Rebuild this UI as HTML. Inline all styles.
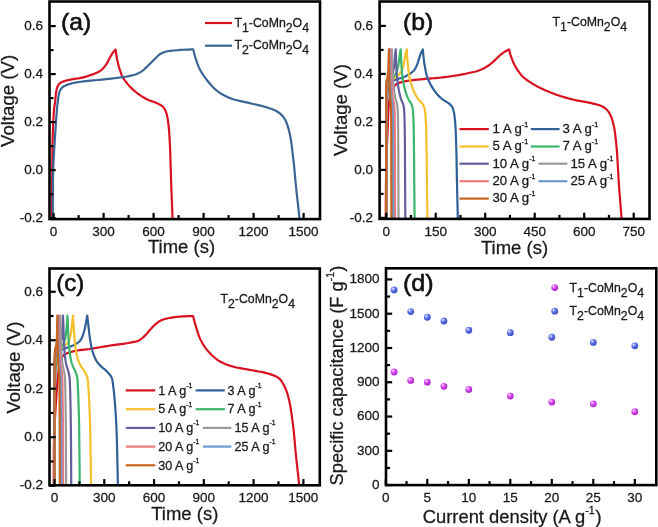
<!DOCTYPE html><html><head><meta charset="utf-8"><style>html,body{margin:0;padding:0;background:#fff;width:658px;height:527px;overflow:hidden}</style></head><body><svg width="658" height="527" viewBox="0 0 658 527" style="display:block;will-change:transform">
<defs>
<radialGradient id="gm" cx="0.35" cy="0.32" r="0.7"><stop offset="0" stop-color="#fde0ff"/><stop offset="0.4" stop-color="#d850f2"/><stop offset="1" stop-color="#a81ec8"/></radialGradient>
<radialGradient id="gb" cx="0.35" cy="0.32" r="0.7"><stop offset="0" stop-color="#eef2ff"/><stop offset="0.4" stop-color="#6a7cec"/><stop offset="1" stop-color="#3646c0"/></radialGradient>
<clipPath id="ca"><rect x="49.5" y="1.5" width="270.5" height="217.6"/></clipPath>
<clipPath id="cb"><rect x="379.6" y="1.5" width="269.9" height="217.4"/></clipPath>
<clipPath id="cc"><rect x="49.5" y="268.5" width="270.3" height="216.8"/></clipPath>
</defs>
<style>text{stroke:#1a1a1a;stroke-width:0.28px}text.pl{stroke:#111;stroke-width:0.6px}</style>
<g font-family="'Liberation Sans', sans-serif" fill="#1a1a1a">
<g clip-path="url(#ca)" fill="none" stroke-width="2.2" stroke-linejoin="round">
<path d="M51.99,225.3 L52.01,218.32 L52.03,211.22 L52.04,204.08 L52.06,196.97 L52.08,189.94 L52.11,183.07 L52.14,176.44 L52.2,170.1 L52.25,165.18 L52.3,160.39 L52.35,155.72 L52.41,151.17 L52.48,146.73 L52.57,142.41 L52.67,138.2 L52.79,134.1 L52.91,130.78 L53.03,127.48 L53.16,124.21 L53.3,121.04 L53.46,118 L53.62,115.14 L53.81,112.49 L54,110.1 L54.13,108.82 L54.27,107.66 L54.41,106.6 L54.55,105.59 L54.7,104.61 L54.85,103.61 L55,102.57 L55.15,101.46 L55.31,100.04 L55.46,98.52 L55.6,96.95 L55.75,95.36 L55.91,93.79 L56.1,92.3 L56.32,90.92 L56.58,89.7 L56.76,88.97 L56.95,88.29 L57.15,87.64 L57.36,87.03 L57.59,86.46 L57.84,85.91 L58.12,85.39 L58.44,84.9 L58.73,84.49 L59.03,84.12 L59.35,83.77 L59.68,83.45 L60.05,83.14 L60.46,82.84 L60.91,82.55 L61.41,82.26 L62.42,81.79 L63.62,81.35 L64.98,80.93 L66.42,80.55 L67.92,80.19 L69.41,79.86 L70.86,79.55 L72.2,79.26 L73.31,79.04 L74.39,78.87 L75.45,78.73 L76.5,78.6 L77.54,78.47 L78.6,78.33 L79.67,78.16 L80.76,77.94 L82.01,77.65 L83.31,77.32 L84.65,76.96 L85.99,76.58 L87.3,76.19 L88.55,75.8 L89.73,75.42 L90.8,75.06 L91.46,74.83 L92.08,74.6 L92.66,74.38 L93.22,74.16 L93.76,73.94 L94.29,73.72 L94.83,73.48 L95.39,73.24 L95.97,72.98 L96.56,72.73 L97.15,72.47 L97.74,72.2 L98.32,71.92 L98.89,71.63 L99.44,71.32 L99.98,70.98 L100.48,70.63 L100.96,70.26 L101.43,69.88 L101.89,69.48 L102.34,69.07 L102.78,68.64 L103.21,68.2 L103.63,67.74 L104.07,67.24 L104.49,66.72 L104.91,66.19 L105.31,65.64 L105.7,65.08 L106.09,64.5 L106.47,63.9 L106.86,63.3 L107.28,62.6 L107.69,61.86 L108.1,61.09 L108.5,60.31 L108.9,59.53 L109.3,58.76 L109.69,58.02 L110.08,57.3 L110.43,56.69 L110.76,56.09 L111.09,55.49 L111.43,54.91 L111.76,54.34 L112.1,53.79 L112.45,53.25 L112.81,52.74 L113.14,52.31 L113.48,51.9 L113.83,51.51 L114.18,51.13 L114.54,50.75 L114.89,50.38 L115.25,50 L115.6,49.62 L115.7,50.36 L115.8,51.09 L115.9,51.82 L116,52.54 L116.1,53.28 L116.21,54.03 L116.33,54.81 L116.47,55.62 L116.65,56.67 L116.85,57.78 L117.06,58.93 L117.29,60.09 L117.53,61.27 L117.78,62.45 L118.05,63.61 L118.33,64.74 L118.62,65.83 L118.93,66.94 L119.26,68.04 L119.6,69.14 L119.95,70.21 L120.3,71.24 L120.65,72.22 L120.99,73.14 L121.24,73.78 L121.46,74.36 L121.68,74.92 L121.9,75.46 L122.13,75.99 L122.4,76.53 L122.69,77.1 L123.04,77.7 L123.62,78.63 L124.28,79.63 L125,80.66 L125.79,81.71 L126.62,82.78 L127.47,83.84 L128.35,84.87 L129.24,85.86 L130.2,86.88 L131.2,87.89 L132.23,88.89 L133.3,89.87 L134.38,90.84 L135.49,91.77 L136.61,92.67 L137.73,93.54 L138.85,94.35 L139.98,95.14 L141.12,95.9 L142.28,96.62 L143.46,97.33 L144.66,98.01 L145.87,98.67 L147.1,99.3 L148.41,99.92 L149.79,100.49 L151.21,101.03 L152.64,101.54 L154.04,102.05 L155.4,102.56 L156.67,103.08 L157.82,103.62 L158.61,104.02 L159.36,104.4 L160.09,104.77 L160.77,105.15 L161.42,105.55 L162.04,105.98 L162.62,106.45 L163.15,106.98 L163.65,107.55 L164.09,108.15 L164.49,108.79 L164.86,109.46 L165.2,110.17 L165.52,110.91 L165.83,111.69 L166.13,112.5 L166.5,113.64 L166.84,114.84 L167.13,116.1 L167.4,117.43 L167.64,118.82 L167.87,120.26 L168.08,121.75 L168.3,123.3 L168.57,125.49 L168.81,127.77 L169.02,130.16 L169.21,132.65 L169.38,135.25 L169.53,137.95 L169.69,140.77 L169.85,143.7 L170.07,148.16 L170.26,153.01 L170.43,158.15 L170.59,163.47 L170.74,168.87 L170.89,174.25 L171.05,179.49 L171.21,184.5 L171.38,189.02 L171.56,193.71 L171.75,198.42 L171.94,203.05 L172.12,207.45 L172.28,211.51 L172.41,215.1 L172.52,218.1 L172.55,219.25 L172.58,220.27 L172.61,221.19 L172.63,222.03 L172.64,222.83 L172.66,223.62 L172.68,224.44 L172.7,225.3" stroke="#d81020"/>
<path d="M52.8,225.3 L52.83,218.32 L52.85,211.22 L52.85,204.08 L52.86,196.96 L52.88,189.94 L52.94,183.07 L53.04,176.44 L53.2,170.1 L53.38,165.16 L53.6,160.32 L53.85,155.59 L54.12,150.98 L54.4,146.52 L54.68,142.2 L54.95,138.06 L55.2,134.1 L55.38,131.24 L55.55,128.49 L55.72,125.83 L55.89,123.26 L56.06,120.77 L56.23,118.35 L56.41,116 L56.6,113.7 L56.75,111.9 L56.9,110.14 L57.05,108.44 L57.2,106.77 L57.36,105.15 L57.53,103.57 L57.72,102.02 L57.93,100.5 L58.11,99.22 L58.28,97.94 L58.46,96.68 L58.64,95.44 L58.86,94.26 L59.11,93.13 L59.41,92.09 L59.77,91.14 L60.05,90.51 L60.35,89.93 L60.66,89.39 L60.99,88.88 L61.36,88.41 L61.77,87.95 L62.24,87.5 L62.77,87.06 L63.64,86.46 L64.63,85.9 L65.72,85.38 L66.91,84.89 L68.18,84.44 L69.5,84.01 L70.87,83.6 L72.27,83.22 L74.25,82.76 L76.4,82.36 L78.68,82.02 L81.04,81.73 L83.45,81.46 L85.87,81.21 L88.27,80.96 L90.6,80.7 L92.86,80.45 L95.11,80.22 L97.36,80.01 L99.6,79.81 L101.86,79.61 L104.13,79.4 L106.43,79.16 L108.77,78.9 L111.42,78.58 L114.22,78.24 L117.1,77.88 L119.98,77.51 L122.78,77.12 L125.42,76.72 L127.83,76.31 L129.93,75.9 L131.01,75.66 L131.99,75.43 L132.9,75.2 L133.76,74.97 L134.57,74.72 L135.36,74.46 L136.15,74.17 L136.93,73.86 L137.64,73.56 L138.33,73.25 L138.99,72.93 L139.64,72.59 L140.28,72.23 L140.92,71.84 L141.55,71.43 L142.2,70.98 L142.96,70.4 L143.71,69.77 L144.46,69.1 L145.21,68.39 L145.96,67.66 L146.71,66.92 L147.45,66.18 L148.2,65.46 L148.96,64.72 L149.72,63.98 L150.47,63.22 L151.23,62.46 L151.98,61.7 L152.74,60.94 L153.5,60.19 L154.27,59.46 L155.02,58.73 L155.78,57.98 L156.54,57.23 L157.3,56.49 L158.06,55.77 L158.84,55.1 L159.63,54.48 L160.43,53.94 L161.14,53.52 L161.84,53.15 L162.54,52.82 L163.25,52.52 L163.99,52.25 L164.75,52.01 L165.57,51.77 L166.43,51.54 L167.73,51.25 L169.13,51.01 L170.61,50.81 L172.16,50.64 L173.75,50.49 L175.37,50.36 L176.99,50.23 L178.6,50.1 L180.36,49.97 L182.15,49.86 L183.97,49.76 L185.81,49.68 L187.66,49.61 L189.52,49.54 L191.37,49.46 L193.2,49.38 L193.49,50.48 L193.76,51.57 L194.03,52.66 L194.31,53.74 L194.59,54.84 L194.89,55.95 L195.23,57.09 L195.6,58.26 L196.08,59.71 L196.58,61.2 L197.1,62.74 L197.66,64.29 L198.27,65.86 L198.93,67.42 L199.65,68.97 L200.43,70.5 L201.41,72.2 L202.5,73.93 L203.66,75.66 L204.89,77.38 L206.16,79.07 L207.44,80.7 L208.7,82.25 L209.93,83.7 L210.92,84.84 L211.89,85.92 L212.86,86.96 L213.83,87.95 L214.82,88.91 L215.85,89.83 L216.94,90.74 L218.1,91.62 L219.47,92.58 L220.9,93.52 L222.39,94.42 L223.93,95.28 L225.53,96.11 L227.17,96.89 L228.87,97.64 L230.6,98.34 L232.68,99.07 L234.85,99.72 L237.11,100.3 L239.42,100.83 L241.77,101.34 L244.12,101.84 L246.46,102.35 L248.77,102.9 L251.09,103.46 L253.46,104.01 L255.86,104.55 L258.25,105.1 L260.6,105.65 L262.88,106.22 L265.05,106.82 L267.1,107.46 L268.63,107.97 L270.12,108.47 L271.56,108.98 L272.95,109.5 L274.28,110.06 L275.56,110.65 L276.78,111.3 L277.93,112.02 L278.9,112.69 L279.82,113.39 L280.68,114.12 L281.51,114.88 L282.29,115.69 L283.04,116.56 L283.75,117.5 L284.43,118.5 L285.22,119.84 L285.93,121.28 L286.58,122.8 L287.17,124.42 L287.73,126.12 L288.26,127.9 L288.77,129.77 L289.27,131.7 L289.93,134.58 L290.52,137.7 L291.05,141 L291.54,144.45 L292,147.98 L292.43,151.55 L292.85,155.1 L293.27,158.58 L293.68,162.15 L294.06,165.74 L294.41,169.35 L294.74,172.98 L295.07,176.63 L295.39,180.28 L295.74,183.95 L296.1,187.62 L296.52,191.54 L296.98,195.68 L297.45,199.92 L297.93,204.13 L298.39,208.18 L298.81,211.94 L299.16,215.29 L299.43,218.1 L299.53,219.24 L299.61,220.25 L299.67,221.16 L299.73,222.01 L299.78,222.82 L299.83,223.62 L299.88,224.43 L299.93,225.3" stroke="#3b6594"/>
</g>
<rect x="49.5" y="1.5" width="270.5" height="217.6" fill="none" stroke="#000" stroke-width="2.6"/>
<line x1="53.6" y1="219.1" x2="53.6" y2="212.9" stroke="#000" stroke-width="2.2"/>
<line x1="103.6" y1="219.1" x2="103.6" y2="212.9" stroke="#000" stroke-width="2.2"/>
<line x1="153.6" y1="219.1" x2="153.6" y2="212.9" stroke="#000" stroke-width="2.2"/>
<line x1="203.6" y1="219.1" x2="203.6" y2="212.9" stroke="#000" stroke-width="2.2"/>
<line x1="253.6" y1="219.1" x2="253.6" y2="212.9" stroke="#000" stroke-width="2.2"/>
<line x1="303.6" y1="219.1" x2="303.6" y2="212.9" stroke="#000" stroke-width="2.2"/>
<line x1="78.6" y1="219.1" x2="78.6" y2="215.1" stroke="#000" stroke-width="2.2"/>
<line x1="128.6" y1="219.1" x2="128.6" y2="215.1" stroke="#000" stroke-width="2.2"/>
<line x1="178.6" y1="219.1" x2="178.6" y2="215.1" stroke="#000" stroke-width="2.2"/>
<line x1="228.6" y1="219.1" x2="228.6" y2="215.1" stroke="#000" stroke-width="2.2"/>
<line x1="278.6" y1="219.1" x2="278.6" y2="215.1" stroke="#000" stroke-width="2.2"/>
<line x1="49.5" y1="218.1" x2="55.7" y2="218.1" stroke="#000" stroke-width="2.2"/>
<line x1="49.5" y1="170.1" x2="55.7" y2="170.1" stroke="#000" stroke-width="2.2"/>
<line x1="49.5" y1="122.1" x2="55.7" y2="122.1" stroke="#000" stroke-width="2.2"/>
<line x1="49.5" y1="74.1" x2="55.7" y2="74.1" stroke="#000" stroke-width="2.2"/>
<line x1="49.5" y1="26.1" x2="55.7" y2="26.1" stroke="#000" stroke-width="2.2"/>
<line x1="49.5" y1="194.1" x2="53.5" y2="194.1" stroke="#000" stroke-width="2.2"/>
<line x1="49.5" y1="146.1" x2="53.5" y2="146.1" stroke="#000" stroke-width="2.2"/>
<line x1="49.5" y1="98.1" x2="53.5" y2="98.1" stroke="#000" stroke-width="2.2"/>
<line x1="49.5" y1="50.1" x2="53.5" y2="50.1" stroke="#000" stroke-width="2.2"/>
<text x="53.6" y="235.7" text-anchor="middle" font-size="13.5">0</text>
<text x="103.6" y="235.7" text-anchor="middle" font-size="13.5">300</text>
<text x="153.6" y="235.7" text-anchor="middle" font-size="13.5">600</text>
<text x="203.6" y="235.7" text-anchor="middle" font-size="13.5">900</text>
<text x="253.6" y="235.7" text-anchor="middle" font-size="13.5">1200</text>
<text x="303.6" y="235.7" text-anchor="middle" font-size="13.5">1500</text>
<text x="43" y="221.9" text-anchor="end" font-size="13.5">-0.2</text>
<text x="43" y="173.9" text-anchor="end" font-size="13.5">0.0</text>
<text x="43" y="125.9" text-anchor="end" font-size="13.5">0.2</text>
<text x="43" y="77.9" text-anchor="end" font-size="13.5">0.4</text>
<text x="43" y="29.9" text-anchor="end" font-size="13.5">0.6</text>
<text x="181.5" y="253.3" text-anchor="middle" font-size="18.5">Time (s)</text>
<text transform="translate(14,100.9) rotate(-90)" text-anchor="middle" font-size="18.6">Voltage (V)</text>
<text transform="translate(61,30) scale(1.03,1)" font-size="24" class="pl" fill="#111">(a)</text>
<line x1="205" y1="23" x2="232" y2="23" stroke="#d81020" stroke-width="2.2"/>
<line x1="205" y1="45.7" x2="232" y2="45.7" stroke="#3b6594" stroke-width="2.2"/>
<text x="234.5" y="26.6" font-size="12.3">T<tspan font-size="12.3" dy="5">1</tspan><tspan dy="-5">-CoMn</tspan><tspan font-size="12.3" dy="5">2</tspan><tspan dy="-5">O</tspan><tspan font-size="12.3" dy="5">4</tspan></text>
<text x="234.5" y="49.3" font-size="12.3">T<tspan font-size="12.3" dy="5">2</tspan><tspan dy="-5">-CoMn</tspan><tspan font-size="12.3" dy="5">2</tspan><tspan dy="-5">O</tspan><tspan font-size="12.3" dy="5">4</tspan></text>
<g clip-path="url(#cb)" fill="none" stroke-width="2.2" stroke-linejoin="round">
<path d="M385.71,225.1 L385.76,218.14 L385.8,211.09 L385.83,204.01 L385.87,196.95 L385.92,189.95 L385.98,183.08 L386.07,176.38 L386.2,169.9 L386.33,164.54 L386.49,159.27 L386.66,154.1 L386.85,149.03 L387.04,144.07 L387.25,139.21 L387.46,134.46 L387.67,129.82 L387.83,125.93 L387.97,122.04 L388.1,118.2 L388.24,114.44 L388.41,110.83 L388.63,107.39 L388.91,104.19 L389.27,101.26 L389.54,99.49 L389.81,97.81 L390.1,96.2 L390.42,94.68 L390.77,93.25 L391.16,91.9 L391.6,90.65 L392.09,89.5 L392.47,88.75 L392.87,88.04 L393.28,87.39 L393.72,86.78 L394.19,86.21 L394.68,85.68 L395.21,85.17 L395.78,84.7 L396.38,84.25 L397,83.86 L397.65,83.51 L398.33,83.19 L399.06,82.89 L399.86,82.62 L400.72,82.34 L401.67,82.06 L403.7,81.56 L406.1,81.11 L408.78,80.69 L411.64,80.31 L414.59,79.96 L417.54,79.64 L420.38,79.34 L423.03,79.06 L425.23,78.84 L427.37,78.67 L429.46,78.53 L431.54,78.4 L433.6,78.27 L435.69,78.13 L437.8,77.96 L439.97,77.74 L442.43,77.45 L445.02,77.12 L447.66,76.76 L450.3,76.38 L452.9,75.99 L455.39,75.6 L457.73,75.22 L459.86,74.86 L461.16,74.63 L462.38,74.41 L463.53,74.19 L464.62,73.97 L465.69,73.75 L466.76,73.52 L467.83,73.28 L468.94,73.04 L470.09,72.78 L471.24,72.53 L472.41,72.28 L473.56,72.02 L474.71,71.74 L475.84,71.45 L476.95,71.13 L478.02,70.78 L478.99,70.44 L479.93,70.08 L480.85,69.7 L481.76,69.31 L482.66,68.9 L483.54,68.46 L484.41,68.01 L485.27,67.54 L486.11,67.05 L486.93,66.54 L487.73,66.02 L488.53,65.47 L489.32,64.91 L490.1,64.32 L490.88,63.72 L491.65,63.1 L492.47,62.41 L493.28,61.67 L494.09,60.9 L494.89,60.12 L495.69,59.34 L496.48,58.56 L497.26,57.81 L498.03,57.1 L498.72,56.48 L499.4,55.87 L500.06,55.28 L500.73,54.69 L501.39,54.12 L502.06,53.57 L502.74,53.04 L503.44,52.54 L504.11,52.09 L504.79,51.68 L505.48,51.28 L506.17,50.91 L506.87,50.54 L507.57,50.17 L508.27,49.8 L508.96,49.42 L509.17,50.16 L509.36,50.89 L509.56,51.62 L509.75,52.35 L509.95,53.09 L510.17,53.84 L510.41,54.62 L510.68,55.42 L511.04,56.48 L511.44,57.59 L511.86,58.74 L512.31,59.92 L512.79,61.1 L513.28,62.27 L513.81,63.42 L514.35,64.54 L514.94,65.65 L515.56,66.76 L516.22,67.87 L516.9,68.97 L517.59,70.04 L518.28,71.06 L518.96,72.03 L519.62,72.94 L520.11,73.59 L520.57,74.19 L521.01,74.76 L521.46,75.3 L521.94,75.83 L522.45,76.36 L523.02,76.92 L523.67,77.5 L524.84,78.47 L526.16,79.48 L527.62,80.52 L529.18,81.58 L530.82,82.63 L532.51,83.68 L534.22,84.69 L535.93,85.66 L537.86,86.71 L539.87,87.74 L541.93,88.74 L544.04,89.72 L546.19,90.68 L548.36,91.6 L550.54,92.49 L552.72,93.34 L554.96,94.17 L557.22,94.97 L559.5,95.73 L561.8,96.45 L564.12,97.15 L566.47,97.82 L568.84,98.47 L571.23,99.1 L573.85,99.72 L576.59,100.3 L579.39,100.83 L582.2,101.35 L584.96,101.85 L587.63,102.35 L590.14,102.87 L592.44,103.42 L593.97,103.81 L595.44,104.17 L596.85,104.52 L598.2,104.88 L599.48,105.26 L600.71,105.7 L601.88,106.2 L602.98,106.78 L603.87,107.33 L604.7,107.91 L605.49,108.53 L606.23,109.19 L606.94,109.89 L607.61,110.64 L608.25,111.44 L608.86,112.3 L609.56,113.41 L610.19,114.59 L610.77,115.85 L611.3,117.17 L611.8,118.57 L612.27,120.02 L612.72,121.53 L613.15,123.1 L613.69,125.27 L614.16,127.55 L614.57,129.93 L614.94,132.43 L615.27,135.03 L615.59,137.74 L615.9,140.56 L616.22,143.5 L616.65,147.95 L617.02,152.8 L617.36,157.94 L617.68,163.27 L617.98,168.67 L618.28,174.05 L618.58,179.29 L618.92,184.3 L619.25,188.83 L619.61,193.51 L619.98,198.22 L620.35,202.85 L620.7,207.25 L621.01,211.31 L621.28,214.9 L621.49,217.9 L621.56,219.05 L621.62,220.07 L621.67,220.99 L621.71,221.83 L621.74,222.63 L621.78,223.42 L621.82,224.24 L621.86,225.1" stroke="#d81020"/>
<path d="M386.05,225.1 L386.07,218.14 L386.08,211.09 L386.09,204.01 L386.1,196.95 L386.12,189.95 L386.14,183.08 L386.16,176.38 L386.2,169.9 L386.24,164.54 L386.29,159.27 L386.34,154.1 L386.39,149.04 L386.45,144.07 L386.51,139.21 L386.58,134.46 L386.64,129.82 L386.69,125.93 L386.73,122.05 L386.77,118.21 L386.81,114.46 L386.86,110.84 L386.92,107.41 L387.01,104.2 L387.12,101.26 L387.19,99.51 L387.27,97.83 L387.36,96.24 L387.45,94.73 L387.55,93.3 L387.66,91.95 L387.8,90.68 L387.96,89.5 L388.07,88.78 L388.17,88.11 L388.29,87.47 L388.4,86.86 L388.54,86.28 L388.69,85.73 L388.86,85.2 L389.06,84.7 L389.23,84.31 L389.39,83.95 L389.57,83.61 L389.76,83.28 L389.97,82.97 L390.22,82.66 L390.49,82.36 L390.82,82.06 L391.4,81.62 L392.11,81.19 L392.9,80.78 L393.76,80.39 L394.64,80.02 L395.53,79.67 L396.39,79.35 L397.19,79.06 L397.84,78.85 L398.48,78.68 L399.1,78.53 L399.73,78.4 L400.35,78.27 L400.97,78.12 L401.6,77.95 L402.24,77.74 L402.99,77.45 L403.77,77.12 L404.56,76.75 L405.35,76.37 L406.12,75.98 L406.86,75.59 L407.55,75.21 L408.18,74.86 L408.58,74.63 L408.94,74.4 L409.29,74.18 L409.62,73.96 L409.93,73.74 L410.25,73.51 L410.56,73.28 L410.89,73.04 L411.24,72.78 L411.59,72.52 L411.94,72.25 L412.29,71.98 L412.63,71.7 L412.97,71.41 L413.29,71.1 L413.6,70.78 L413.91,70.42 L414.2,70.05 L414.48,69.66 L414.75,69.26 L415.01,68.85 L415.27,68.42 L415.52,67.98 L415.76,67.54 L416.03,67.03 L416.28,66.51 L416.52,65.97 L416.76,65.42 L416.99,64.86 L417.22,64.28 L417.44,63.7 L417.67,63.1 L417.92,62.39 L418.16,61.65 L418.4,60.89 L418.64,60.11 L418.87,59.33 L419.11,58.56 L419.34,57.82 L419.57,57.1 L419.77,56.49 L419.97,55.89 L420.16,55.3 L420.36,54.72 L420.55,54.15 L420.76,53.6 L420.96,53.06 L421.18,52.54 L421.38,52.12 L421.58,51.71 L421.78,51.32 L421.99,50.94 L422.2,50.56 L422.41,50.18 L422.62,49.81 L422.83,49.42 L422.89,50.16 L422.96,50.89 L423.01,51.62 L423.07,52.34 L423.14,53.08 L423.21,53.83 L423.28,54.61 L423.36,55.42 L423.48,56.47 L423.6,57.58 L423.73,58.72 L423.87,59.89 L424.01,61.07 L424.17,62.25 L424.33,63.41 L424.51,64.54 L424.69,65.63 L424.88,66.73 L425.08,67.83 L425.29,68.93 L425.5,70 L425.72,71.03 L425.93,72.02 L426.15,72.94 L426.29,73.57 L426.43,74.15 L426.56,74.71 L426.69,75.24 L426.84,75.77 L427,76.31 L427.18,76.89 L427.4,77.5 L427.75,78.42 L428.16,79.4 L428.6,80.43 L429.07,81.48 L429.58,82.55 L430.11,83.61 L430.66,84.65 L431.21,85.66 L431.79,86.66 L432.4,87.66 L433.03,88.65 L433.68,89.64 L434.35,90.6 L435.03,91.55 L435.73,92.46 L436.43,93.34 L437.11,94.14 L437.79,94.91 L438.49,95.66 L439.2,96.39 L439.92,97.1 L440.66,97.79 L441.42,98.46 L442.19,99.1 L442.99,99.7 L443.83,100.27 L444.71,100.82 L445.59,101.34 L446.46,101.86 L447.3,102.37 L448.08,102.89 L448.78,103.42 L449.27,103.83 L449.75,104.22 L450.19,104.61 L450.61,105 L451.01,105.41 L451.38,105.83 L451.73,106.29 L452.06,106.78 L452.38,107.37 L452.67,107.98 L452.91,108.62 L453.14,109.3 L453.34,110 L453.52,110.74 L453.7,111.5 L453.89,112.3 L454.12,113.45 L454.33,114.66 L454.51,115.92 L454.67,117.25 L454.82,118.63 L454.95,120.07 L455.09,121.56 L455.22,123.1 L455.39,125.29 L455.54,127.58 L455.66,129.97 L455.78,132.46 L455.88,135.05 L455.98,137.76 L456.07,140.57 L456.17,143.5 L456.3,147.96 L456.42,152.81 L456.53,157.95 L456.63,163.27 L456.72,168.67 L456.81,174.05 L456.91,179.29 L457.01,184.3 L457.11,188.82 L457.22,193.51 L457.34,198.22 L457.45,202.85 L457.56,207.25 L457.66,211.31 L457.75,214.9 L457.81,217.9 L457.83,219.05 L457.85,220.07 L457.86,220.99 L457.88,221.83 L457.89,222.63 L457.9,223.42 L457.91,224.24 L457.92,225.1" stroke="#2f6096"/>
<path d="M386.12,225.1 L386.13,218.14 L386.13,211.09 L386.14,204.01 L386.14,196.95 L386.15,189.95 L386.16,183.08 L386.18,176.38 L386.2,169.9 L386.22,164.54 L386.25,159.27 L386.28,154.1 L386.31,149.04 L386.34,144.07 L386.38,139.21 L386.41,134.46 L386.45,129.82 L386.47,125.93 L386.5,122.05 L386.52,118.21 L386.54,114.46 L386.57,110.84 L386.61,107.41 L386.65,104.2 L386.72,101.26 L386.76,99.51 L386.8,97.84 L386.85,96.24 L386.9,94.73 L386.96,93.3 L387.02,91.95 L387.1,90.69 L387.19,89.5 L387.25,88.79 L387.31,88.11 L387.37,87.48 L387.44,86.87 L387.51,86.29 L387.59,85.74 L387.69,85.21 L387.81,84.7 L387.9,84.33 L387.99,83.97 L388.08,83.63 L388.18,83.31 L388.29,82.99 L388.43,82.68 L388.6,82.37 L388.8,82.06 L389.12,81.65 L389.52,81.24 L389.96,80.83 L390.44,80.44 L390.94,80.05 L391.44,79.69 L391.93,79.36 L392.39,79.06 L392.75,78.85 L393.11,78.68 L393.46,78.53 L393.82,78.4 L394.17,78.26 L394.53,78.12 L394.88,77.95 L395.23,77.74 L395.66,77.45 L396.11,77.11 L396.55,76.74 L397,76.36 L397.43,75.97 L397.84,75.58 L398.23,75.21 L398.57,74.86 L398.8,74.62 L399.01,74.39 L399.21,74.17 L399.39,73.95 L399.57,73.73 L399.74,73.51 L399.92,73.28 L400.1,73.04 L400.3,72.77 L400.5,72.51 L400.7,72.24 L400.9,71.96 L401.09,71.68 L401.28,71.39 L401.46,71.09 L401.63,70.78 L401.81,70.41 L401.98,70.04 L402.13,69.64 L402.29,69.24 L402.43,68.83 L402.57,68.41 L402.71,67.98 L402.84,67.54 L403,67.03 L403.14,66.5 L403.28,65.96 L403.41,65.41 L403.54,64.85 L403.67,64.28 L403.79,63.69 L403.92,63.1 L404.06,62.39 L404.2,61.65 L404.33,60.88 L404.47,60.11 L404.6,59.33 L404.73,58.56 L404.86,57.82 L404.99,57.1 L405.1,56.49 L405.21,55.89 L405.32,55.3 L405.43,54.72 L405.54,54.16 L405.66,53.6 L405.77,53.06 L405.9,52.54 L406.01,52.12 L406.12,51.72 L406.23,51.32 L406.35,50.94 L406.47,50.56 L406.59,50.19 L406.71,49.81 L406.82,49.42 L406.86,50.16 L406.9,50.89 L406.93,51.62 L406.97,52.34 L407.01,53.08 L407.05,53.83 L407.09,54.61 L407.14,55.42 L407.21,56.47 L407.28,57.58 L407.35,58.72 L407.44,59.89 L407.52,61.07 L407.61,62.24 L407.71,63.41 L407.81,64.54 L407.92,65.62 L408.03,66.73 L408.15,67.83 L408.27,68.92 L408.4,69.99 L408.53,71.03 L408.65,72.02 L408.78,72.94 L408.87,73.57 L408.95,74.15 L409.02,74.7 L409.1,75.23 L409.18,75.76 L409.28,76.31 L409.39,76.88 L409.52,77.5 L409.73,78.41 L409.96,79.39 L410.22,80.41 L410.5,81.46 L410.8,82.53 L411.11,83.59 L411.44,84.64 L411.77,85.66 L412.11,86.65 L412.46,87.64 L412.83,88.63 L413.21,89.61 L413.6,90.58 L414,91.52 L414.42,92.45 L414.85,93.34 L415.24,94.12 L415.63,94.88 L416.04,95.63 L416.45,96.36 L416.88,97.07 L417.32,97.77 L417.77,98.44 L418.24,99.1 L418.7,99.69 L419.2,100.26 L419.72,100.8 L420.24,101.34 L420.76,101.86 L421.25,102.38 L421.71,102.9 L422.13,103.42 L422.43,103.84 L422.71,104.24 L422.97,104.64 L423.22,105.04 L423.45,105.45 L423.67,105.87 L423.87,106.31 L424.06,106.78 L424.26,107.38 L424.43,108 L424.58,108.65 L424.71,109.32 L424.82,110.02 L424.93,110.75 L425.03,111.51 L425.14,112.3 L425.28,113.45 L425.4,114.66 L425.51,115.93 L425.6,117.26 L425.69,118.64 L425.77,120.07 L425.84,121.56 L425.92,123.1 L426.02,125.29 L426.11,127.58 L426.18,129.97 L426.25,132.46 L426.31,135.05 L426.37,137.76 L426.43,140.57 L426.48,143.5 L426.56,147.96 L426.63,152.81 L426.69,157.95 L426.75,163.27 L426.81,168.67 L426.86,174.05 L426.92,179.29 L426.98,184.3 L427.04,188.82 L427.11,193.51 L427.17,198.22 L427.24,202.85 L427.3,207.25 L427.36,211.31 L427.41,214.9 L427.45,217.9 L427.46,219.05 L427.47,220.07 L427.48,220.99 L427.49,221.83 L427.5,222.63 L427.5,223.42 L427.51,224.24 L427.52,225.1" stroke="#f5c02e"/>
<path d="M386.14,225.1 L386.15,218.14 L386.15,211.09 L386.16,204.01 L386.16,196.95 L386.17,189.95 L386.17,183.08 L386.19,176.38 L386.2,169.9 L386.22,164.54 L386.23,159.27 L386.25,154.1 L386.28,149.04 L386.3,144.07 L386.32,139.21 L386.35,134.46 L386.37,129.82 L386.39,125.93 L386.41,122.05 L386.42,118.21 L386.44,114.46 L386.46,110.84 L386.49,107.41 L386.52,104.2 L386.56,101.26 L386.59,99.51 L386.62,97.84 L386.66,96.25 L386.69,94.73 L386.73,93.3 L386.78,91.95 L386.83,90.69 L386.9,89.5 L386.94,88.79 L386.98,88.12 L387.02,87.48 L387.07,86.87 L387.12,86.3 L387.18,85.75 L387.25,85.21 L387.33,84.7 L387.4,84.33 L387.45,83.98 L387.51,83.64 L387.58,83.32 L387.66,83 L387.76,82.69 L387.88,82.38 L388.03,82.06 L388.26,81.67 L388.53,81.26 L388.84,80.86 L389.18,80.46 L389.52,80.07 L389.88,79.7 L390.23,79.36 L390.56,79.06 L390.81,78.86 L391.06,78.69 L391.31,78.54 L391.56,78.4 L391.81,78.26 L392.07,78.11 L392.31,77.94 L392.56,77.74 L392.87,77.44 L393.18,77.1 L393.5,76.74 L393.81,76.35 L394.11,75.96 L394.4,75.58 L394.67,75.2 L394.91,74.86 L395.08,74.62 L395.22,74.39 L395.36,74.16 L395.49,73.94 L395.62,73.72 L395.74,73.5 L395.86,73.27 L395.99,73.04 L396.13,72.77 L396.27,72.5 L396.41,72.23 L396.55,71.96 L396.69,71.68 L396.82,71.39 L396.94,71.09 L397.06,70.78 L397.19,70.41 L397.31,70.03 L397.42,69.64 L397.53,69.24 L397.63,68.82 L397.73,68.4 L397.82,67.98 L397.92,67.54 L398.02,67.02 L398.13,66.5 L398.22,65.96 L398.32,65.41 L398.41,64.85 L398.5,64.28 L398.58,63.69 L398.67,63.1 L398.77,62.39 L398.87,61.65 L398.97,60.88 L399.06,60.11 L399.15,59.33 L399.24,58.56 L399.34,57.82 L399.43,57.1 L399.51,56.49 L399.59,55.9 L399.66,55.31 L399.74,54.73 L399.82,54.16 L399.9,53.6 L399.98,53.06 L400.07,52.54 L400.14,52.12 L400.22,51.72 L400.3,51.33 L400.39,50.94 L400.47,50.56 L400.55,50.19 L400.64,49.81 L400.72,49.42 L400.75,50.16 L400.77,50.89 L400.79,51.62 L400.82,52.34 L400.84,53.08 L400.87,53.83 L400.9,54.61 L400.93,55.42 L400.98,56.47 L401.02,57.58 L401.08,58.72 L401.13,59.89 L401.19,61.06 L401.25,62.24 L401.32,63.41 L401.38,64.54 L401.46,65.62 L401.53,66.72 L401.61,67.83 L401.69,68.92 L401.78,69.99 L401.86,71.03 L401.95,72.01 L402.03,72.94 L402.09,73.57 L402.14,74.15 L402.2,74.7 L402.25,75.23 L402.31,75.76 L402.37,76.3 L402.44,76.88 L402.53,77.5 L402.67,78.41 L402.83,79.38 L403,80.4 L403.19,81.45 L403.39,82.52 L403.6,83.59 L403.82,84.64 L404.04,85.66 L404.27,86.64 L404.5,87.63 L404.75,88.62 L405.01,89.6 L405.27,90.56 L405.54,91.51 L405.82,92.44 L406.11,93.34 L406.37,94.11 L406.63,94.87 L406.91,95.61 L407.18,96.34 L407.47,97.06 L407.76,97.75 L408.07,98.44 L408.39,99.1 L408.7,99.68 L409.03,100.25 L409.38,100.8 L409.74,101.34 L410.08,101.86 L410.42,102.39 L410.73,102.9 L411,103.42 L411.21,103.85 L411.4,104.26 L411.58,104.66 L411.74,105.06 L411.9,105.46 L412.04,105.88 L412.17,106.32 L412.3,106.78 L412.44,107.39 L412.56,108.01 L412.66,108.66 L412.74,109.33 L412.82,110.03 L412.89,110.75 L412.95,111.51 L413.02,112.3 L413.12,113.45 L413.2,114.67 L413.27,115.94 L413.34,117.26 L413.4,118.64 L413.45,120.08 L413.5,121.56 L413.55,123.1 L413.62,125.29 L413.68,127.58 L413.73,129.97 L413.77,132.46 L413.82,135.05 L413.85,137.76 L413.89,140.57 L413.93,143.5 L413.98,147.96 L414.03,152.81 L414.07,157.95 L414.11,163.27 L414.15,168.67 L414.18,174.05 L414.22,179.29 L414.26,184.3 L414.3,188.82 L414.35,193.51 L414.39,198.22 L414.44,202.85 L414.48,207.25 L414.52,211.31 L414.55,214.9 L414.58,217.9 L414.59,219.05 L414.6,220.07 L414.6,220.99 L414.61,221.83 L414.61,222.63 L414.62,223.42 L414.62,224.24 L414.63,225.1" stroke="#3cb46e"/>
<path d="M386.16,225.1 L386.17,218.14 L386.17,211.09 L386.17,204.01 L386.17,196.95 L386.18,189.95 L386.18,183.08 L386.19,176.38 L386.2,169.9 L386.21,164.54 L386.22,159.27 L386.24,154.1 L386.25,149.04 L386.27,144.07 L386.28,139.21 L386.3,134.46 L386.31,129.82 L386.33,125.93 L386.34,122.05 L386.35,118.21 L386.36,114.46 L386.37,110.84 L386.39,107.41 L386.41,104.2 L386.44,101.26 L386.46,99.51 L386.48,97.84 L386.5,96.25 L386.52,94.73 L386.55,93.3 L386.58,91.95 L386.62,90.69 L386.66,89.5 L386.69,88.79 L386.71,88.12 L386.74,87.48 L386.77,86.88 L386.81,86.3 L386.85,85.75 L386.89,85.22 L386.95,84.7 L386.99,84.33 L387.02,83.98 L387.06,83.65 L387.1,83.33 L387.15,83.02 L387.22,82.7 L387.3,82.38 L387.41,82.06 L387.55,81.68 L387.73,81.28 L387.93,80.87 L388.15,80.47 L388.38,80.08 L388.62,79.71 L388.85,79.37 L389.07,79.06 L389.23,78.86 L389.4,78.69 L389.57,78.54 L389.73,78.4 L389.9,78.26 L390.07,78.1 L390.23,77.94 L390.39,77.74 L390.6,77.44 L390.81,77.1 L391.02,76.73 L391.23,76.34 L391.42,75.95 L391.61,75.57 L391.78,75.2 L391.94,74.86 L392.05,74.62 L392.15,74.38 L392.24,74.16 L392.33,73.94 L392.41,73.72 L392.49,73.5 L392.57,73.27 L392.65,73.04 L392.74,72.77 L392.84,72.5 L392.93,72.23 L393.02,71.95 L393.11,71.67 L393.2,71.38 L393.28,71.09 L393.36,70.78 L393.44,70.41 L393.52,70.03 L393.6,69.63 L393.67,69.23 L393.73,68.82 L393.8,68.4 L393.86,67.97 L393.92,67.54 L393.99,67.02 L394.06,66.5 L394.13,65.96 L394.19,65.41 L394.25,64.85 L394.3,64.27 L394.36,63.69 L394.42,63.1 L394.49,62.39 L394.55,61.64 L394.61,60.88 L394.68,60.11 L394.74,59.33 L394.8,58.56 L394.86,57.82 L394.92,57.1 L394.97,56.49 L395.02,55.9 L395.07,55.31 L395.12,54.73 L395.17,54.16 L395.23,53.6 L395.28,53.06 L395.34,52.54 L395.39,52.12 L395.44,51.72 L395.5,51.33 L395.55,50.94 L395.61,50.56 L395.66,50.19 L395.72,49.81 L395.77,49.42 L395.79,50.16 L395.8,50.89 L395.82,51.62 L395.84,52.34 L395.85,53.08 L395.87,53.83 L395.89,54.61 L395.92,55.42 L395.95,56.47 L395.98,57.58 L396.02,58.72 L396.05,59.88 L396.09,61.06 L396.14,62.24 L396.18,63.41 L396.23,64.54 L396.28,65.62 L396.33,66.72 L396.39,67.83 L396.44,68.92 L396.5,69.99 L396.56,71.03 L396.62,72.01 L396.68,72.94 L396.72,73.57 L396.75,74.15 L396.79,74.69 L396.83,75.23 L396.86,75.76 L396.91,76.3 L396.96,76.88 L397.02,77.5 L397.12,78.41 L397.22,79.38 L397.34,80.4 L397.47,81.45 L397.61,82.52 L397.76,83.58 L397.91,84.64 L398.06,85.66 L398.22,86.64 L398.38,87.63 L398.55,88.61 L398.73,89.59 L398.91,90.56 L399.1,91.51 L399.29,92.44 L399.49,93.34 L399.67,94.11 L399.85,94.86 L400.04,95.61 L400.23,96.33 L400.43,97.05 L400.63,97.75 L400.84,98.43 L401.07,99.1 L401.28,99.68 L401.51,100.24 L401.75,100.79 L401.99,101.33 L402.24,101.87 L402.47,102.39 L402.68,102.91 L402.87,103.42 L403.01,103.85 L403.15,104.26 L403.27,104.67 L403.38,105.07 L403.49,105.47 L403.59,105.88 L403.68,106.32 L403.77,106.78 L403.86,107.39 L403.95,108.02 L404.01,108.66 L404.07,109.34 L404.12,110.03 L404.17,110.76 L404.22,111.51 L404.27,112.3 L404.33,113.45 L404.39,114.67 L404.44,115.94 L404.48,117.26 L404.52,118.64 L404.56,120.08 L404.6,121.56 L404.63,123.1 L404.68,125.29 L404.72,127.58 L404.75,129.97 L404.78,132.46 L404.81,135.05 L404.84,137.76 L404.86,140.57 L404.89,143.5 L404.93,147.96 L404.96,152.81 L404.99,157.95 L405.02,163.27 L405.04,168.67 L405.07,174.05 L405.09,179.29 L405.12,184.3 L405.15,188.82 L405.18,193.51 L405.21,198.22 L405.24,202.85 L405.27,207.25 L405.3,211.31 L405.32,214.9 L405.34,217.9 L405.35,219.05 L405.35,220.07 L405.35,220.99 L405.36,221.83 L405.36,222.63 L405.36,223.42 L405.37,224.24 L405.37,225.1" stroke="#625f9c"/>
<path d="M386.18,225.1 L386.18,218.14 L386.18,211.09 L386.18,204.01 L386.18,196.95 L386.19,189.95 L386.19,183.08 L386.19,176.38 L386.2,169.9 L386.21,164.54 L386.21,159.27 L386.22,154.1 L386.23,149.04 L386.24,144.07 L386.25,139.21 L386.26,134.46 L386.27,129.82 L386.28,125.93 L386.28,122.05 L386.29,118.21 L386.3,114.46 L386.3,110.84 L386.31,107.41 L386.33,104.2 L386.34,101.26 L386.36,99.51 L386.37,97.84 L386.38,96.25 L386.4,94.74 L386.41,93.3 L386.43,91.96 L386.45,90.69 L386.48,89.5 L386.49,88.79 L386.51,88.12 L386.53,87.48 L386.55,86.88 L386.57,86.3 L386.59,85.75 L386.62,85.22 L386.65,84.7 L386.67,84.33 L386.7,83.99 L386.72,83.66 L386.74,83.34 L386.77,83.02 L386.81,82.71 L386.86,82.39 L386.93,82.06 L387.02,81.68 L387.12,81.29 L387.24,80.89 L387.37,80.49 L387.51,80.09 L387.65,79.72 L387.79,79.37 L387.93,79.06 L388.03,78.87 L388.13,78.7 L388.23,78.55 L388.33,78.4 L388.44,78.25 L388.54,78.1 L388.63,77.93 L388.73,77.74 L388.86,77.43 L388.99,77.09 L389.12,76.72 L389.24,76.34 L389.36,75.95 L389.47,75.56 L389.57,75.2 L389.66,74.86 L389.73,74.61 L389.79,74.38 L389.85,74.16 L389.9,73.94 L389.95,73.72 L389.99,73.5 L390.04,73.27 L390.09,73.04 L390.15,72.77 L390.21,72.5 L390.26,72.23 L390.32,71.95 L390.37,71.67 L390.42,71.38 L390.47,71.08 L390.52,70.78 L390.57,70.41 L390.62,70.02 L390.66,69.63 L390.71,69.23 L390.75,68.82 L390.78,68.4 L390.82,67.97 L390.86,67.54 L390.9,67.02 L390.94,66.5 L390.98,65.96 L391.02,65.41 L391.06,64.85 L391.09,64.27 L391.13,63.69 L391.16,63.1 L391.2,62.39 L391.24,61.64 L391.28,60.88 L391.31,60.11 L391.35,59.33 L391.39,58.56 L391.42,57.82 L391.46,57.1 L391.49,56.49 L391.52,55.9 L391.55,55.31 L391.58,54.73 L391.62,54.16 L391.65,53.6 L391.68,53.06 L391.72,52.54 L391.75,52.12 L391.78,51.72 L391.81,51.33 L391.84,50.94 L391.88,50.56 L391.91,50.19 L391.94,49.81 L391.97,49.42 L391.99,50.16 L392,50.89 L392.01,51.62 L392.02,52.34 L392.03,53.08 L392.05,53.83 L392.06,54.61 L392.08,55.42 L392.1,56.47 L392.12,57.58 L392.14,58.72 L392.17,59.88 L392.2,61.06 L392.23,62.24 L392.26,63.41 L392.29,64.54 L392.32,65.62 L392.36,66.72 L392.4,67.83 L392.44,68.92 L392.48,69.99 L392.52,71.03 L392.56,72.01 L392.6,72.94 L392.62,73.57 L392.65,74.15 L392.67,74.69 L392.7,75.22 L392.73,75.75 L392.76,76.3 L392.79,76.88 L392.83,77.5 L392.9,78.41 L392.97,79.38 L393.06,80.4 L393.14,81.45 L393.24,82.52 L393.34,83.58 L393.44,84.64 L393.55,85.66 L393.66,86.64 L393.77,87.62 L393.88,88.61 L394,89.59 L394.13,90.55 L394.26,91.51 L394.39,92.44 L394.53,93.34 L394.65,94.11 L394.78,94.86 L394.9,95.6 L395.03,96.33 L395.17,97.04 L395.31,97.74 L395.46,98.43 L395.61,99.1 L395.75,99.68 L395.91,100.24 L396.08,100.79 L396.25,101.33 L396.41,101.87 L396.57,102.39 L396.72,102.91 L396.85,103.42 L396.95,103.85 L397.04,104.27 L397.12,104.67 L397.2,105.07 L397.27,105.47 L397.34,105.89 L397.4,106.32 L397.46,106.78 L397.53,107.39 L397.59,108.02 L397.63,108.67 L397.67,109.34 L397.71,110.03 L397.74,110.76 L397.77,111.51 L397.81,112.3 L397.85,113.45 L397.89,114.67 L397.92,115.94 L397.95,117.26 L397.98,118.64 L398.01,120.08 L398.03,121.56 L398.06,123.1 L398.09,125.29 L398.12,127.58 L398.14,129.97 L398.16,132.46 L398.18,135.05 L398.2,137.76 L398.22,140.57 L398.23,143.5 L398.26,147.96 L398.28,152.81 L398.3,157.95 L398.32,163.27 L398.34,168.67 L398.35,174.05 L398.37,179.29 L398.39,184.3 L398.41,188.82 L398.43,193.51 L398.45,198.22 L398.48,202.85 L398.5,207.25 L398.51,211.31 L398.53,214.9 L398.54,217.9 L398.55,219.05 L398.55,220.07 L398.55,220.99 L398.55,221.83 L398.56,222.63 L398.56,223.42 L398.56,224.24 L398.56,225.1" stroke="#9a9a9a"/>
<path d="M386.18,225.1 L386.18,218.14 L386.19,211.09 L386.19,204.01 L386.19,196.95 L386.19,189.95 L386.19,183.08 L386.2,176.38 L386.2,169.9 L386.2,164.54 L386.21,159.27 L386.22,154.1 L386.22,149.04 L386.23,144.07 L386.24,139.21 L386.24,134.46 L386.25,129.82 L386.26,125.93 L386.26,122.05 L386.27,118.21 L386.27,114.46 L386.28,110.84 L386.28,107.41 L386.29,104.2 L386.31,101.26 L386.32,99.51 L386.33,97.84 L386.34,96.25 L386.35,94.74 L386.36,93.3 L386.37,91.96 L386.39,90.69 L386.41,89.5 L386.42,88.79 L386.43,88.12 L386.44,87.48 L386.46,86.88 L386.47,86.3 L386.49,85.75 L386.51,85.22 L386.53,84.7 L386.55,84.33 L386.57,83.99 L386.58,83.66 L386.6,83.34 L386.63,83.02 L386.65,82.71 L386.69,82.39 L386.74,82.06 L386.81,81.68 L386.89,81.29 L386.97,80.89 L387.07,80.49 L387.17,80.1 L387.28,79.72 L387.38,79.38 L387.49,79.06 L387.56,78.87 L387.63,78.7 L387.71,78.55 L387.78,78.4 L387.86,78.25 L387.94,78.1 L388.01,77.93 L388.08,77.74 L388.18,77.43 L388.27,77.09 L388.37,76.72 L388.46,76.33 L388.55,75.94 L388.63,75.56 L388.7,75.2 L388.77,74.86 L388.82,74.61 L388.87,74.38 L388.91,74.16 L388.95,73.94 L388.98,73.72 L389.02,73.5 L389.05,73.27 L389.09,73.04 L389.13,72.77 L389.18,72.5 L389.22,72.23 L389.26,71.95 L389.3,71.67 L389.34,71.38 L389.37,71.08 L389.41,70.78 L389.45,70.41 L389.48,70.02 L389.52,69.63 L389.55,69.23 L389.58,68.82 L389.61,68.4 L389.63,67.97 L389.66,67.54 L389.69,67.02 L389.72,66.49 L389.75,65.96 L389.78,65.41 L389.81,64.84 L389.83,64.27 L389.86,63.69 L389.89,63.1 L389.91,62.39 L389.94,61.64 L389.97,60.88 L390,60.11 L390.03,59.33 L390.05,58.56 L390.08,57.82 L390.11,57.1 L390.13,56.49 L390.15,55.9 L390.18,55.31 L390.2,54.73 L390.22,54.16 L390.25,53.6 L390.27,53.06 L390.3,52.54 L390.32,52.12 L390.34,51.72 L390.37,51.33 L390.39,50.94 L390.42,50.56 L390.44,50.19 L390.47,49.81 L390.49,49.42 L390.5,50.16 L390.51,50.89 L390.51,51.62 L390.52,52.34 L390.53,53.08 L390.54,53.83 L390.55,54.61 L390.56,55.42 L390.58,56.47 L390.59,57.58 L390.61,58.72 L390.63,59.88 L390.65,61.06 L390.67,62.24 L390.69,63.4 L390.71,64.54 L390.74,65.62 L390.76,66.72 L390.79,67.83 L390.81,68.92 L390.84,69.99 L390.87,71.03 L390.9,72.01 L390.93,72.94 L390.95,73.57 L390.96,74.15 L390.98,74.69 L391,75.22 L391.02,75.75 L391.04,76.3 L391.06,76.88 L391.09,77.5 L391.14,78.41 L391.19,79.38 L391.25,80.4 L391.31,81.45 L391.38,82.52 L391.45,83.58 L391.52,84.64 L391.6,85.66 L391.67,86.64 L391.75,87.62 L391.83,88.61 L391.92,89.58 L392,90.55 L392.1,91.5 L392.19,92.44 L392.29,93.34 L392.37,94.11 L392.46,94.86 L392.55,95.6 L392.64,96.33 L392.74,97.04 L392.84,97.74 L392.94,98.43 L393.05,99.1 L393.15,99.67 L393.26,100.24 L393.38,100.79 L393.49,101.33 L393.61,101.87 L393.72,102.39 L393.83,102.91 L393.92,103.42 L393.99,103.85 L394.05,104.27 L394.11,104.67 L394.17,105.07 L394.22,105.48 L394.26,105.89 L394.31,106.32 L394.35,106.78 L394.4,107.39 L394.44,108.02 L394.47,108.67 L394.5,109.34 L394.52,110.03 L394.55,110.76 L394.57,111.51 L394.59,112.3 L394.62,113.45 L394.65,114.67 L394.67,115.94 L394.7,117.26 L394.72,118.64 L394.73,120.08 L394.75,121.56 L394.77,123.1 L394.79,125.29 L394.81,127.58 L394.83,129.97 L394.84,132.46 L394.86,135.05 L394.87,137.76 L394.88,140.57 L394.89,143.5 L394.91,147.96 L394.93,152.81 L394.94,157.95 L394.95,163.27 L394.97,168.67 L394.98,174.05 L394.99,179.29 L395,184.3 L395.02,188.82 L395.03,193.51 L395.05,198.22 L395.06,202.85 L395.08,207.25 L395.09,211.31 L395.1,214.9 L395.11,217.9 L395.11,219.05 L395.12,220.07 L395.12,220.99 L395.12,221.83 L395.12,222.63 L395.12,223.42 L395.12,224.24 L395.13,225.1" stroke="#ee7880"/>
<path d="M386.19,225.1 L386.19,218.14 L386.19,211.09 L386.19,204.01 L386.19,196.95 L386.19,189.95 L386.19,183.08 L386.2,176.38 L386.2,169.9 L386.2,164.54 L386.21,159.27 L386.21,154.1 L386.22,149.04 L386.22,144.07 L386.23,139.21 L386.23,134.46 L386.24,129.82 L386.24,125.93 L386.25,122.05 L386.25,118.21 L386.25,114.46 L386.26,110.84 L386.27,107.41 L386.27,104.2 L386.28,101.26 L386.29,99.51 L386.3,97.84 L386.3,96.25 L386.31,94.74 L386.32,93.3 L386.33,91.96 L386.34,90.69 L386.36,89.5 L386.37,88.79 L386.38,88.12 L386.39,87.48 L386.4,86.88 L386.41,86.3 L386.42,85.75 L386.44,85.22 L386.46,84.7 L386.47,84.33 L386.48,83.99 L386.5,83.66 L386.51,83.34 L386.53,83.03 L386.55,82.71 L386.58,82.39 L386.62,82.06 L386.67,81.68 L386.73,81.29 L386.8,80.89 L386.87,80.49 L386.95,80.1 L387.03,79.73 L387.11,79.38 L387.19,79.06 L387.24,78.87 L387.3,78.7 L387.36,78.55 L387.42,78.4 L387.48,78.25 L387.54,78.09 L387.59,77.93 L387.65,77.74 L387.72,77.43 L387.8,77.09 L387.87,76.72 L387.94,76.33 L388,75.94 L388.07,75.56 L388.13,75.2 L388.18,74.86 L388.22,74.61 L388.25,74.38 L388.28,74.15 L388.31,73.93 L388.34,73.72 L388.37,73.5 L388.4,73.27 L388.42,73.04 L388.46,72.77 L388.49,72.5 L388.52,72.23 L388.55,71.95 L388.58,71.67 L388.61,71.38 L388.64,71.08 L388.67,70.78 L388.7,70.41 L388.73,70.02 L388.75,69.63 L388.78,69.23 L388.8,68.82 L388.82,68.4 L388.84,67.97 L388.86,67.54 L388.89,67.02 L388.91,66.49 L388.93,65.96 L388.95,65.41 L388.97,64.84 L388.99,64.27 L389.01,63.69 L389.03,63.1 L389.06,62.39 L389.08,61.64 L389.1,60.88 L389.12,60.11 L389.14,59.33 L389.16,58.56 L389.19,57.82 L389.21,57.1 L389.22,56.49 L389.24,55.9 L389.26,55.31 L389.28,54.73 L389.29,54.16 L389.31,53.6 L389.33,53.06 L389.35,52.54 L389.37,52.12 L389.39,51.72 L389.41,51.33 L389.42,50.94 L389.44,50.56 L389.46,50.19 L389.48,49.81 L389.5,49.42 L389.51,50.16 L389.51,50.89 L389.52,51.62 L389.53,52.34 L389.53,53.08 L389.54,53.83 L389.55,54.61 L389.56,55.42 L389.57,56.47 L389.58,57.58 L389.59,58.72 L389.61,59.88 L389.62,61.06 L389.64,62.24 L389.66,63.4 L389.67,64.54 L389.69,65.62 L389.71,66.72 L389.73,67.83 L389.76,68.92 L389.78,69.99 L389.8,71.03 L389.82,72.01 L389.84,72.94 L389.86,73.57 L389.87,74.15 L389.89,74.69 L389.9,75.22 L389.92,75.75 L389.93,76.3 L389.95,76.88 L389.97,77.5 L390.01,78.41 L390.05,79.38 L390.1,80.4 L390.15,81.45 L390.2,82.51 L390.25,83.58 L390.31,84.64 L390.37,85.66 L390.43,86.64 L390.49,87.62 L390.55,88.61 L390.62,89.58 L390.69,90.55 L390.76,91.5 L390.84,92.43 L390.91,93.34 L390.98,94.11 L391.05,94.86 L391.12,95.6 L391.19,96.33 L391.26,97.04 L391.34,97.74 L391.42,98.43 L391.51,99.1 L391.59,99.67 L391.68,100.24 L391.77,100.79 L391.86,101.33 L391.95,101.87 L392.04,102.39 L392.12,102.91 L392.19,103.42 L392.25,103.85 L392.3,104.27 L392.35,104.67 L392.39,105.07 L392.43,105.48 L392.47,105.89 L392.5,106.32 L392.53,106.78 L392.57,107.39 L392.6,108.02 L392.63,108.67 L392.65,109.34 L392.67,110.04 L392.69,110.76 L392.7,111.51 L392.72,112.3 L392.75,113.45 L392.77,114.67 L392.79,115.94 L392.8,117.26 L392.82,118.64 L392.83,120.08 L392.85,121.56 L392.86,123.1 L392.88,125.29 L392.89,127.58 L392.91,129.97 L392.92,132.46 L392.93,135.05 L392.94,137.76 L392.95,140.57 L392.96,143.5 L392.97,147.96 L392.99,152.81 L393,157.95 L393.01,163.27 L393.02,168.67 L393.03,174.05 L393.04,179.29 L393.05,184.3 L393.06,188.82 L393.07,193.51 L393.08,198.22 L393.09,202.85 L393.1,207.25 L393.11,211.31 L393.12,214.9 L393.13,217.9 L393.13,219.05 L393.13,220.07 L393.14,220.99 L393.14,221.83 L393.14,222.63 L393.14,223.42 L393.14,224.24 L393.14,225.1" stroke="#6b9bd1"/>
<path d="M386.19,225.1 L386.19,218.14 L386.19,211.09 L386.19,204.01 L386.19,196.95 L386.19,189.95 L386.2,183.08 L386.2,176.38 L386.2,169.9 L386.2,164.54 L386.21,159.27 L386.21,154.1 L386.21,149.04 L386.22,144.07 L386.22,139.21 L386.23,134.46 L386.23,129.82 L386.24,125.93 L386.24,122.05 L386.24,118.21 L386.25,114.46 L386.25,110.84 L386.25,107.41 L386.26,104.2 L386.27,101.26 L386.27,99.51 L386.28,97.84 L386.29,96.25 L386.29,94.74 L386.3,93.3 L386.31,91.96 L386.32,90.69 L386.33,89.5 L386.34,88.79 L386.35,88.12 L386.36,87.48 L386.36,86.88 L386.37,86.3 L386.38,85.75 L386.4,85.22 L386.41,84.7 L386.43,84.33 L386.44,83.99 L386.45,83.66 L386.46,83.34 L386.47,83.03 L386.49,82.71 L386.51,82.39 L386.55,82.06 L386.59,81.68 L386.64,81.29 L386.69,80.89 L386.76,80.49 L386.82,80.1 L386.89,79.73 L386.95,79.38 L387.02,79.06 L387.07,78.87 L387.11,78.7 L387.16,78.55 L387.21,78.4 L387.26,78.25 L387.31,78.09 L387.35,77.93 L387.4,77.74 L387.46,77.43 L387.52,77.08 L387.58,76.71 L387.64,76.33 L387.7,75.94 L387.75,75.56 L387.8,75.2 L387.84,74.86 L387.88,74.61 L387.9,74.38 L387.93,74.15 L387.95,73.93 L387.98,73.72 L388,73.5 L388.02,73.27 L388.05,73.04 L388.07,72.77 L388.1,72.5 L388.13,72.23 L388.15,71.95 L388.18,71.67 L388.2,71.38 L388.23,71.08 L388.25,70.78 L388.27,70.41 L388.3,70.02 L388.32,69.63 L388.34,69.23 L388.36,68.82 L388.37,68.4 L388.39,67.97 L388.41,67.54 L388.43,67.02 L388.45,66.49 L388.47,65.96 L388.49,65.41 L388.5,64.84 L388.52,64.27 L388.54,63.69 L388.55,63.1 L388.57,62.39 L388.59,61.64 L388.61,60.88 L388.63,60.11 L388.64,59.33 L388.66,58.56 L388.68,57.82 L388.7,57.1 L388.71,56.49 L388.72,55.9 L388.74,55.31 L388.75,54.73 L388.77,54.16 L388.78,53.6 L388.8,53.06 L388.82,52.54 L388.83,52.12 L388.85,51.72 L388.86,51.33 L388.88,50.94 L388.89,50.56 L388.91,50.19 L388.92,49.81 L388.94,49.42 L388.94,50.16 L388.95,50.89 L388.95,51.62 L388.96,52.34 L388.96,53.08 L388.97,53.83 L388.97,54.61 L388.98,55.42 L388.98,56.47 L388.99,57.58 L389,58.72 L389.01,59.88 L389.02,61.06 L389.03,62.24 L389.04,63.4 L389.06,64.54 L389.07,65.62 L389.08,66.72 L389.1,67.83 L389.11,68.92 L389.13,69.99 L389.14,71.03 L389.16,72.01 L389.17,72.94 L389.18,73.57 L389.19,74.15 L389.2,74.69 L389.21,75.22 L389.22,75.75 L389.23,76.3 L389.24,76.88 L389.26,77.5 L389.28,78.41 L389.31,79.38 L389.34,80.4 L389.37,81.45 L389.41,82.51 L389.45,83.58 L389.48,84.64 L389.52,85.66 L389.56,86.64 L389.61,87.62 L389.65,88.61 L389.69,89.58 L389.74,90.55 L389.79,91.5 L389.84,92.43 L389.89,93.34 L389.93,94.11 L389.98,94.86 L390.03,95.6 L390.08,96.32 L390.13,97.04 L390.18,97.74 L390.23,98.43 L390.29,99.1 L390.34,99.67 L390.4,100.24 L390.46,100.79 L390.53,101.33 L390.59,101.87 L390.65,102.39 L390.7,102.91 L390.75,103.42 L390.79,103.85 L390.82,104.27 L390.85,104.67 L390.88,105.07 L390.91,105.48 L390.93,105.89 L390.96,106.32 L390.98,106.78 L391,107.39 L391.03,108.02 L391.04,108.67 L391.06,109.34 L391.07,110.04 L391.08,110.76 L391.09,111.51 L391.11,112.3 L391.12,113.45 L391.14,114.67 L391.15,115.94 L391.16,117.26 L391.17,118.64 L391.18,120.08 L391.19,121.56 L391.2,123.1 L391.21,125.29 L391.22,127.58 L391.23,129.97 L391.24,132.46 L391.25,135.05 L391.25,137.76 L391.26,140.57 L391.27,143.5 L391.28,147.96 L391.28,152.81 L391.29,157.95 L391.3,163.27 L391.3,168.67 L391.31,174.05 L391.32,179.29 L391.33,184.3 L391.33,188.82 L391.34,193.51 L391.35,198.22 L391.36,202.85 L391.36,207.25 L391.37,211.31 L391.38,214.9 L391.38,217.9 L391.38,219.05 L391.38,220.07 L391.38,220.99 L391.39,221.83 L391.39,222.63 L391.39,223.42 L391.39,224.24 L391.39,225.1" stroke="#c8641e"/>
</g>
<rect x="379.6" y="1.5" width="269.9" height="217.4" fill="none" stroke="#000" stroke-width="2.6"/>
<line x1="386.2" y1="218.9" x2="386.2" y2="212.7" stroke="#000" stroke-width="2.2"/>
<line x1="435.7" y1="218.9" x2="435.7" y2="212.7" stroke="#000" stroke-width="2.2"/>
<line x1="485.2" y1="218.9" x2="485.2" y2="212.7" stroke="#000" stroke-width="2.2"/>
<line x1="534.7" y1="218.9" x2="534.7" y2="212.7" stroke="#000" stroke-width="2.2"/>
<line x1="584.2" y1="218.9" x2="584.2" y2="212.7" stroke="#000" stroke-width="2.2"/>
<line x1="633.7" y1="218.9" x2="633.7" y2="212.7" stroke="#000" stroke-width="2.2"/>
<line x1="410.95" y1="218.9" x2="410.95" y2="214.9" stroke="#000" stroke-width="2.2"/>
<line x1="460.45" y1="218.9" x2="460.45" y2="214.9" stroke="#000" stroke-width="2.2"/>
<line x1="509.95" y1="218.9" x2="509.95" y2="214.9" stroke="#000" stroke-width="2.2"/>
<line x1="559.45" y1="218.9" x2="559.45" y2="214.9" stroke="#000" stroke-width="2.2"/>
<line x1="608.95" y1="218.9" x2="608.95" y2="214.9" stroke="#000" stroke-width="2.2"/>
<line x1="379.6" y1="217.9" x2="385.8" y2="217.9" stroke="#000" stroke-width="2.2"/>
<line x1="379.6" y1="169.9" x2="385.8" y2="169.9" stroke="#000" stroke-width="2.2"/>
<line x1="379.6" y1="121.9" x2="385.8" y2="121.9" stroke="#000" stroke-width="2.2"/>
<line x1="379.6" y1="73.9" x2="385.8" y2="73.9" stroke="#000" stroke-width="2.2"/>
<line x1="379.6" y1="25.9" x2="385.8" y2="25.9" stroke="#000" stroke-width="2.2"/>
<line x1="379.6" y1="193.9" x2="383.6" y2="193.9" stroke="#000" stroke-width="2.2"/>
<line x1="379.6" y1="145.9" x2="383.6" y2="145.9" stroke="#000" stroke-width="2.2"/>
<line x1="379.6" y1="97.9" x2="383.6" y2="97.9" stroke="#000" stroke-width="2.2"/>
<line x1="379.6" y1="49.9" x2="383.6" y2="49.9" stroke="#000" stroke-width="2.2"/>
<text x="386.2" y="235.5" text-anchor="middle" font-size="13.5">0</text>
<text x="435.7" y="235.5" text-anchor="middle" font-size="13.5">150</text>
<text x="485.2" y="235.5" text-anchor="middle" font-size="13.5">300</text>
<text x="534.7" y="235.5" text-anchor="middle" font-size="13.5">450</text>
<text x="584.2" y="235.5" text-anchor="middle" font-size="13.5">600</text>
<text x="633.7" y="235.5" text-anchor="middle" font-size="13.5">750</text>
<text x="373.1" y="221.7" text-anchor="end" font-size="13.5">-0.2</text>
<text x="373.1" y="173.7" text-anchor="end" font-size="13.5">0.0</text>
<text x="373.1" y="125.7" text-anchor="end" font-size="13.5">0.2</text>
<text x="373.1" y="77.7" text-anchor="end" font-size="13.5">0.4</text>
<text x="373.1" y="29.7" text-anchor="end" font-size="13.5">0.6</text>
<text x="514.5" y="253.5" text-anchor="middle" font-size="18.5">Time (s)</text>
<text transform="translate(346.8,110.1) rotate(-90)" text-anchor="middle" font-size="18.6">Voltage (V)</text>
<text transform="translate(403,30) scale(1.03,1)" font-size="24" class="pl" fill="#111">(b)</text>
<text x="552.6" y="25.6" font-size="12.3">T<tspan font-size="12.3" dy="5">1</tspan><tspan dy="-5">-CoMn</tspan><tspan font-size="12.3" dy="5">2</tspan><tspan dy="-5">O</tspan><tspan font-size="12.3" dy="5">4</tspan></text>
<line x1="459.5" y1="129.1" x2="488.8" y2="129.1" stroke="#d81020" stroke-width="2.2"/>
<text x="492.5" y="132.9" font-size="13.2">1 A g<tspan font-size="7" dy="-6.1">-1</tspan></text>
<line x1="530.8" y1="129.1" x2="559.6" y2="129.1" stroke="#2f6096" stroke-width="2.2"/>
<text x="562.5" y="132.9" font-size="13.2">3 A g<tspan font-size="7" dy="-6.1">-1</tspan></text>
<line x1="459.5" y1="146.5" x2="488.8" y2="146.5" stroke="#f5c02e" stroke-width="2.2"/>
<text x="492.5" y="150.3" font-size="13.2">5 A g<tspan font-size="7" dy="-6.1">-1</tspan></text>
<line x1="530.8" y1="146.5" x2="559.6" y2="146.5" stroke="#3cb46e" stroke-width="2.2"/>
<text x="562.5" y="150.3" font-size="13.2">7 A g<tspan font-size="7" dy="-6.1">-1</tspan></text>
<line x1="459.5" y1="163.7" x2="488.8" y2="163.7" stroke="#625f9c" stroke-width="2.2"/>
<text x="492.5" y="167.5" font-size="13.2">10 A g<tspan font-size="7" dy="-6.1">-1</tspan></text>
<line x1="538.5" y1="163.7" x2="567.4" y2="163.7" stroke="#9a9a9a" stroke-width="2.2"/>
<text x="570.5" y="167.5" font-size="13.2">15 A g<tspan font-size="7" dy="-6.1">-1</tspan></text>
<line x1="459.5" y1="181.2" x2="488.8" y2="181.2" stroke="#ee7880" stroke-width="2.2"/>
<text x="492.5" y="185" font-size="13.2">20 A g<tspan font-size="7" dy="-6.1">-1</tspan></text>
<line x1="538.5" y1="181.2" x2="567.4" y2="181.2" stroke="#6b9bd1" stroke-width="2.2"/>
<text x="570.5" y="185" font-size="13.2">25 A g<tspan font-size="7" dy="-6.1">-1</tspan></text>
<line x1="459.5" y1="198.6" x2="488.8" y2="198.6" stroke="#c8641e" stroke-width="2.2"/>
<text x="492.5" y="202.4" font-size="13.2">30 A g<tspan font-size="7" dy="-6.1">-1</tspan></text>
<g clip-path="url(#cc)" fill="none" stroke-width="2.2" stroke-linejoin="round">
<path d="M53.7,492.95 L53.74,485.9 L53.75,478.74 L53.75,471.52 L53.76,464.33 L53.79,457.24 L53.84,450.3 L53.94,443.6 L54.1,437.2 L54.28,432.21 L54.5,427.3 L54.74,422.5 L55.01,417.82 L55.29,413.3 L55.57,408.95 L55.84,404.79 L56.09,400.84 L56.27,398.09 L56.44,395.46 L56.61,392.92 L56.77,390.48 L56.94,388.12 L57.12,385.83 L57.3,383.61 L57.49,381.45 L57.64,379.78 L57.79,378.18 L57.93,376.62 L58.09,375.1 L58.25,373.62 L58.42,372.17 L58.61,370.74 L58.81,369.33 L59,368.09 L59.17,366.85 L59.35,365.63 L59.55,364.43 L59.76,363.27 L60.01,362.15 L60.3,361.1 L60.64,360.12 L60.92,359.4 L61.21,358.72 L61.51,358.08 L61.83,357.46 L62.19,356.88 L62.6,356.32 L63.08,355.78 L63.63,355.27 L64.48,354.63 L65.47,354.05 L66.56,353.52 L67.74,353.04 L69,352.59 L70.32,352.18 L71.69,351.78 L73.08,351.39 L75.11,350.91 L77.36,350.5 L79.76,350.15 L82.23,349.83 L84.71,349.55 L87.1,349.28 L89.33,349.01 L91.33,348.72 L92.55,348.53 L93.66,348.35 L94.7,348.17 L95.7,348 L96.69,347.83 L97.71,347.65 L98.79,347.46 L99.96,347.27 L101.65,346.99 L103.44,346.7 L105.31,346.39 L107.24,346.08 L109.21,345.76 L111.18,345.45 L113.14,345.14 L115.06,344.85 L116.99,344.57 L118.97,344.31 L120.96,344.06 L122.95,343.81 L124.9,343.55 L126.8,343.28 L128.62,342.99 L130.33,342.66 L131.58,342.41 L132.8,342.18 L133.98,341.94 L135.11,341.69 L136.21,341.41 L137.27,341.08 L138.3,340.7 L139.29,340.24 L140.15,339.75 L140.96,339.2 L141.73,338.61 L142.48,337.98 L143.2,337.31 L143.93,336.62 L144.67,335.89 L145.42,335.15 L146.34,334.2 L147.26,333.17 L148.18,332.07 L149.1,330.95 L150.03,329.81 L150.97,328.71 L151.92,327.65 L152.89,326.67 L153.81,325.8 L154.73,324.94 L155.67,324.1 L156.61,323.3 L157.57,322.53 L158.54,321.82 L159.52,321.17 L160.52,320.61 L161.43,320.17 L162.35,319.8 L163.28,319.48 L164.21,319.21 L165.16,318.97 L166.14,318.75 L167.13,318.53 L168.16,318.3 L169.36,318.04 L170.6,317.81 L171.87,317.59 L173.16,317.39 L174.48,317.2 L175.83,317.03 L177.21,316.87 L178.61,316.73 L180.3,316.58 L182.05,316.46 L183.85,316.37 L185.68,316.29 L187.53,316.22 L189.38,316.15 L191.22,316.08 L193.04,316 L193.41,317.36 L193.76,318.71 L194.12,320.06 L194.47,321.41 L194.83,322.77 L195.21,324.13 L195.61,325.51 L196.03,326.91 L196.51,328.47 L197,330.07 L197.49,331.69 L198.02,333.32 L198.57,334.94 L199.17,336.54 L199.81,338.11 L200.51,339.63 L201.25,341.1 L202.03,342.54 L202.85,343.95 L203.72,345.34 L204.62,346.71 L205.58,348.05 L206.59,349.37 L207.64,350.66 L208.83,352.02 L210.08,353.38 L211.4,354.71 L212.76,356.01 L214.17,357.27 L215.62,358.46 L217.1,359.58 L218.59,360.6 L220.07,361.51 L221.58,362.33 L223.11,363.08 L224.68,363.78 L226.29,364.43 L227.93,365.03 L229.63,365.61 L231.37,366.18 L233.46,366.77 L235.64,367.3 L237.88,367.76 L240.18,368.18 L242.51,368.58 L244.84,368.97 L247.17,369.38 L249.46,369.81 L251.77,370.25 L254.13,370.67 L256.52,371.07 L258.89,371.48 L261.23,371.91 L263.5,372.37 L265.67,372.88 L267.71,373.45 L269.27,373.92 L270.79,374.4 L272.28,374.89 L273.71,375.41 L275.07,375.97 L276.36,376.59 L277.56,377.28 L278.66,378.05 L279.52,378.8 L280.29,379.59 L281,380.44 L281.64,381.33 L282.25,382.26 L282.83,383.24 L283.4,384.26 L283.97,385.33 L284.65,386.68 L285.3,388.08 L285.91,389.55 L286.5,391.08 L287.05,392.69 L287.59,394.38 L288.11,396.16 L288.61,398.03 L289.31,400.94 L289.95,404.12 L290.56,407.51 L291.12,411.05 L291.65,414.68 L292.15,418.35 L292.63,422 L293.09,425.56 L293.53,429.18 L293.92,432.81 L294.27,436.46 L294.59,440.12 L294.91,443.8 L295.22,447.49 L295.55,451.19 L295.91,454.9 L296.33,458.85 L296.79,463.04 L297.26,467.32 L297.74,471.57 L298.19,475.66 L298.61,479.46 L298.96,482.84 L299.23,485.68 L299.33,486.83 L299.41,487.85 L299.47,488.77 L299.53,489.63 L299.58,490.45 L299.62,491.25 L299.67,492.08 L299.73,492.95" stroke="#d81020"/>
<path d="M54.5,492.95 L54.52,485.96 L54.54,478.92 L54.56,471.87 L54.58,464.83 L54.6,457.82 L54.63,450.86 L54.66,443.98 L54.7,437.2 L54.74,430.85 L54.78,424.39 L54.82,417.93 L54.87,411.55 L54.93,405.35 L54.99,399.42 L55.07,393.84 L55.15,388.72 L55.21,385.52 L55.26,382.46 L55.31,379.52 L55.37,376.73 L55.44,374.06 L55.53,371.54 L55.65,369.15 L55.81,366.9 L55.91,365.49 L56.01,364.16 L56.1,362.89 L56.21,361.69 L56.35,360.53 L56.53,359.4 L56.78,358.3 L57.11,357.21 L57.49,356.19 L57.9,355.16 L58.37,354.15 L58.88,353.17 L59.43,352.24 L60.03,351.38 L60.67,350.6 L61.36,349.94 L62.03,349.45 L62.75,349.07 L63.51,348.76 L64.3,348.5 L65.11,348.27 L65.94,348.05 L66.76,347.8 L67.57,347.51 L68.46,347.18 L69.36,346.85 L70.29,346.52 L71.21,346.19 L72.13,345.84 L73.04,345.46 L73.92,345.06 L74.77,344.6 L75.58,344.13 L76.38,343.64 L77.18,343.12 L77.95,342.58 L78.69,342 L79.4,341.38 L80.05,340.72 L80.65,340 L81.22,339.15 L81.72,338.23 L82.17,337.25 L82.56,336.23 L82.93,335.18 L83.27,334.11 L83.59,333.05 L83.92,332 L84.23,330.93 L84.52,329.85 L84.78,328.75 L85.02,327.64 L85.25,326.54 L85.46,325.43 L85.67,324.34 L85.88,323.27 L86.07,322.28 L86.24,321.3 L86.41,320.33 L86.56,319.37 L86.72,318.41 L86.87,317.44 L87.03,316.48 L87.19,315.52 L87.31,316.48 L87.43,317.44 L87.55,318.4 L87.67,319.36 L87.79,320.33 L87.91,321.3 L88.03,322.28 L88.15,323.27 L88.27,324.34 L88.39,325.41 L88.5,326.49 L88.62,327.58 L88.74,328.68 L88.86,329.78 L88.98,330.89 L89.11,332 L89.26,333.16 L89.4,334.34 L89.55,335.52 L89.7,336.71 L89.86,337.9 L90.03,339.09 L90.21,340.28 L90.4,341.45 L90.6,342.62 L90.81,343.79 L91.02,344.96 L91.25,346.13 L91.49,347.29 L91.75,348.43 L92.03,349.56 L92.33,350.66 L92.64,351.69 L92.97,352.72 L93.32,353.74 L93.68,354.75 L94.06,355.73 L94.44,356.67 L94.83,357.57 L95.22,358.42 L95.52,359.04 L95.82,359.63 L96.12,360.19 L96.42,360.72 L96.74,361.25 L97.07,361.76 L97.42,362.27 L97.79,362.78 L98.21,363.32 L98.66,363.85 L99.12,364.37 L99.61,364.89 L100.1,365.4 L100.61,365.9 L101.13,366.4 L101.65,366.9 L102.22,367.42 L102.81,367.92 L103.42,368.41 L104.03,368.89 L104.65,369.39 L105.27,369.9 L105.88,370.45 L106.47,371.02 L107.14,371.71 L107.84,372.43 L108.54,373.17 L109.23,373.94 L109.89,374.74 L110.5,375.57 L111.05,376.43 L111.52,377.33 L111.91,378.33 L112.22,379.38 L112.46,380.47 L112.64,381.6 L112.79,382.75 L112.92,383.93 L113.06,385.11 L113.22,386.3 L113.41,387.59 L113.58,388.87 L113.73,390.16 L113.88,391.47 L114.02,392.83 L114.15,394.26 L114.29,395.8 L114.44,397.45 L114.69,400.32 L114.94,403.42 L115.2,406.74 L115.45,410.27 L115.7,413.98 L115.94,417.85 L116.16,421.88 L116.37,426.05 L116.64,432.86 L116.89,440.78 L117.12,449.35 L117.32,458.1 L117.49,466.58 L117.65,474.31 L117.78,480.83 L117.88,485.68 L117.91,486.92 L117.93,487.99 L117.96,488.92 L117.97,489.75 L117.99,490.53 L118.01,491.3 L118.02,492.09 L118.04,492.95" stroke="#2f6096"/>
<path d="M54.5,492.95 L54.51,485.96 L54.52,478.92 L54.53,471.87 L54.54,464.83 L54.56,457.82 L54.57,450.86 L54.59,443.98 L54.61,437.2 L54.63,430.85 L54.66,424.39 L54.68,417.93 L54.71,411.55 L54.74,405.35 L54.78,399.42 L54.82,393.84 L54.87,388.72 L54.9,385.52 L54.93,382.46 L54.96,379.52 L54.99,376.73 L55.03,374.07 L55.08,371.54 L55.15,369.15 L55.24,366.9 L55.3,365.49 L55.34,364.17 L55.39,362.91 L55.45,361.71 L55.53,360.56 L55.63,359.43 L55.78,358.32 L55.97,357.21 L56.18,356.21 L56.4,355.19 L56.64,354.19 L56.9,353.21 L57.2,352.27 L57.55,351.4 L57.93,350.62 L58.37,349.94 L58.73,349.51 L59.13,349.16 L59.56,348.85 L60.01,348.58 L60.47,348.33 L60.94,348.08 L61.41,347.81 L61.87,347.51 L62.37,347.17 L62.88,346.84 L63.41,346.5 L63.93,346.16 L64.45,345.81 L64.96,345.43 L65.45,345.03 L65.92,344.6 L66.39,344.11 L66.86,343.6 L67.31,343.07 L67.74,342.51 L68.15,341.93 L68.54,341.32 L68.9,340.67 L69.23,340 L69.58,339.13 L69.88,338.2 L70.13,337.21 L70.35,336.19 L70.54,335.15 L70.72,334.09 L70.9,333.04 L71.08,332 L71.25,330.93 L71.42,329.84 L71.56,328.74 L71.7,327.63 L71.83,326.53 L71.95,325.43 L72.06,324.34 L72.18,323.27 L72.29,322.28 L72.39,321.3 L72.48,320.33 L72.57,319.37 L72.65,318.4 L72.74,317.44 L72.83,316.48 L72.92,315.52 L72.99,316.48 L73.06,317.44 L73.13,318.4 L73.2,319.36 L73.27,320.33 L73.35,321.3 L73.42,322.28 L73.49,323.27 L73.56,324.34 L73.63,325.41 L73.69,326.49 L73.76,327.58 L73.83,328.68 L73.9,329.78 L73.98,330.89 L74.05,332 L74.14,333.16 L74.22,334.34 L74.31,335.52 L74.4,336.71 L74.49,337.9 L74.59,339.09 L74.7,340.27 L74.81,341.45 L74.93,342.62 L75.05,343.78 L75.18,344.95 L75.31,346.12 L75.45,347.28 L75.6,348.42 L75.77,349.55 L75.95,350.66 L76.13,351.68 L76.32,352.71 L76.53,353.73 L76.74,354.73 L76.96,355.71 L77.19,356.66 L77.42,357.57 L77.65,358.42 L77.83,359.03 L78,359.61 L78.17,360.17 L78.35,360.7 L78.54,361.23 L78.73,361.74 L78.94,362.26 L79.17,362.78 L79.41,363.31 L79.67,363.84 L79.94,364.35 L80.23,364.87 L80.52,365.38 L80.82,365.89 L81.13,366.4 L81.44,366.9 L81.77,367.42 L82.12,367.92 L82.48,368.41 L82.85,368.9 L83.21,369.4 L83.58,369.92 L83.94,370.46 L84.28,371.02 L84.68,371.73 L85.1,372.46 L85.51,373.21 L85.91,373.99 L86.3,374.79 L86.66,375.61 L86.98,376.46 L87.25,377.33 L87.5,378.35 L87.69,379.41 L87.83,380.51 L87.93,381.63 L88.02,382.78 L88.09,383.94 L88.16,385.11 L88.26,386.3 L88.37,387.6 L88.47,388.88 L88.56,390.16 L88.64,391.47 L88.73,392.83 L88.81,394.27 L88.89,395.8 L88.98,397.45 L89.12,400.32 L89.27,403.42 L89.42,406.75 L89.57,410.27 L89.72,413.98 L89.86,417.86 L89.99,421.89 L90.11,426.05 L90.27,432.86 L90.42,440.78 L90.55,449.35 L90.67,458.11 L90.77,466.58 L90.87,474.31 L90.94,480.83 L91,485.68 L91.02,486.92 L91.03,487.99 L91.05,488.92 L91.06,489.75 L91.07,490.53 L91.08,491.3 L91.09,492.09 L91.1,492.95" stroke="#f5c02e"/>
<path d="M54.5,492.95 L54.51,485.96 L54.52,478.92 L54.52,471.87 L54.53,464.83 L54.54,457.82 L54.55,450.86 L54.56,443.98 L54.58,437.2 L54.59,430.85 L54.61,424.39 L54.63,417.93 L54.65,411.55 L54.67,405.35 L54.69,399.42 L54.72,393.84 L54.76,388.72 L54.78,385.52 L54.8,382.46 L54.82,379.53 L54.84,376.73 L54.87,374.07 L54.91,371.54 L54.95,369.15 L55.02,366.9 L55.06,365.5 L55.09,364.17 L55.13,362.92 L55.17,361.72 L55.22,360.56 L55.29,359.44 L55.4,358.32 L55.54,357.21 L55.67,356.21 L55.82,355.21 L55.98,354.2 L56.16,353.22 L56.37,352.29 L56.61,351.42 L56.89,350.63 L57.22,349.94 L57.47,349.54 L57.75,349.19 L58.06,348.89 L58.37,348.61 L58.7,348.35 L59.03,348.09 L59.35,347.81 L59.68,347.51 L60.03,347.17 L60.39,346.83 L60.76,346.49 L61.13,346.15 L61.5,345.79 L61.86,345.42 L62.2,345.02 L62.52,344.6 L62.87,344.11 L63.2,343.59 L63.52,343.05 L63.82,342.49 L64.1,341.9 L64.37,341.29 L64.62,340.66 L64.85,340 L65.11,339.12 L65.32,338.18 L65.49,337.2 L65.65,336.18 L65.78,335.14 L65.9,334.08 L66.02,333.03 L66.15,332 L66.27,330.92 L66.39,329.83 L66.49,328.73 L66.59,327.63 L66.68,326.53 L66.76,325.43 L66.84,324.34 L66.92,323.27 L67,322.28 L67.07,321.3 L67.13,320.33 L67.2,319.37 L67.26,318.4 L67.32,317.44 L67.38,316.48 L67.44,315.52 L67.49,316.48 L67.54,317.44 L67.59,318.4 L67.64,319.36 L67.68,320.33 L67.73,321.3 L67.78,322.28 L67.83,323.27 L67.88,324.34 L67.92,325.41 L67.97,326.49 L68.02,327.58 L68.06,328.68 L68.11,329.78 L68.16,330.89 L68.21,332 L68.27,333.16 L68.33,334.34 L68.39,335.52 L68.45,336.71 L68.51,337.9 L68.58,339.09 L68.65,340.27 L68.73,341.45 L68.81,342.62 L68.89,343.78 L68.98,344.95 L69.07,346.12 L69.16,347.27 L69.26,348.42 L69.38,349.55 L69.5,350.66 L69.62,351.68 L69.75,352.7 L69.89,353.72 L70.04,354.73 L70.19,355.71 L70.34,356.66 L70.5,357.56 L70.66,358.42 L70.77,359.03 L70.89,359.61 L71.01,360.16 L71.13,360.7 L71.25,361.22 L71.39,361.74 L71.53,362.26 L71.68,362.78 L71.85,363.31 L72.03,363.83 L72.21,364.35 L72.4,364.86 L72.6,365.37 L72.8,365.88 L73.01,366.39 L73.23,366.9 L73.45,367.42 L73.69,367.92 L73.93,368.41 L74.18,368.91 L74.43,369.41 L74.68,369.93 L74.92,370.46 L75.16,371.02 L75.43,371.73 L75.72,372.47 L76,373.23 L76.27,374 L76.53,374.81 L76.77,375.63 L76.99,376.47 L77.17,377.33 L77.35,378.36 L77.48,379.42 L77.57,380.52 L77.64,381.64 L77.7,382.78 L77.74,383.94 L77.79,385.12 L77.86,386.3 L77.93,387.6 L78,388.88 L78.06,390.16 L78.12,391.47 L78.17,392.83 L78.23,394.27 L78.29,395.8 L78.34,397.45 L78.44,400.32 L78.54,403.42 L78.65,406.75 L78.75,410.27 L78.85,413.98 L78.94,417.86 L79.03,421.89 L79.12,426.05 L79.22,432.86 L79.32,440.78 L79.41,449.35 L79.49,458.11 L79.57,466.58 L79.63,474.31 L79.68,480.83 L79.72,485.68 L79.73,486.92 L79.74,487.99 L79.75,488.92 L79.76,489.75 L79.76,490.53 L79.77,491.3 L79.78,492.09 L79.78,492.95" stroke="#3cb46e"/>
<path d="M54.5,492.95 L54.51,485.96 L54.51,478.92 L54.52,471.87 L54.52,464.83 L54.53,457.82 L54.53,450.86 L54.54,443.98 L54.55,437.2 L54.56,430.85 L54.57,424.39 L54.58,417.93 L54.6,411.55 L54.61,405.35 L54.63,399.42 L54.65,393.84 L54.67,388.72 L54.69,385.52 L54.7,382.46 L54.71,379.53 L54.73,376.73 L54.74,374.07 L54.77,371.54 L54.8,369.15 L54.84,366.9 L54.87,365.5 L54.89,364.17 L54.91,362.92 L54.94,361.72 L54.98,360.57 L55.02,359.44 L55.09,358.32 L55.18,357.21 L55.28,356.22 L55.37,355.21 L55.47,354.22 L55.58,353.24 L55.72,352.31 L55.88,351.43 L56.07,350.64 L56.3,349.94 L56.47,349.55 L56.65,349.22 L56.85,348.92 L57.06,348.63 L57.28,348.36 L57.49,348.1 L57.71,347.81 L57.92,347.51 L58.16,347.17 L58.4,346.83 L58.65,346.48 L58.89,346.13 L59.14,345.77 L59.37,345.4 L59.6,345.01 L59.81,344.6 L60.04,344.1 L60.26,343.57 L60.47,343.03 L60.67,342.47 L60.86,341.88 L61.04,341.28 L61.2,340.65 L61.35,340 L61.52,339.11 L61.66,338.17 L61.78,337.18 L61.88,336.17 L61.97,335.13 L62.05,334.08 L62.12,333.03 L62.21,332 L62.29,330.92 L62.36,329.83 L62.43,328.73 L62.5,327.63 L62.55,326.52 L62.61,325.43 L62.66,324.34 L62.72,323.27 L62.77,322.28 L62.81,321.3 L62.86,320.33 L62.9,319.37 L62.94,318.4 L62.98,317.44 L63.02,316.48 L63.06,315.52 L63.09,316.48 L63.13,317.44 L63.16,318.4 L63.19,319.37 L63.22,320.33 L63.26,321.3 L63.29,322.28 L63.32,323.27 L63.35,324.34 L63.38,325.41 L63.41,326.49 L63.44,327.58 L63.48,328.68 L63.51,329.78 L63.54,330.89 L63.58,332 L63.61,333.16 L63.65,334.34 L63.69,335.52 L63.73,336.71 L63.77,337.9 L63.82,339.09 L63.87,340.27 L63.92,341.45 L63.97,342.61 L64.03,343.78 L64.09,344.95 L64.15,346.12 L64.21,347.27 L64.28,348.42 L64.35,349.55 L64.43,350.66 L64.52,351.68 L64.6,352.7 L64.7,353.72 L64.79,354.72 L64.89,355.7 L65,356.65 L65.1,357.56 L65.21,358.42 L65.29,359.03 L65.36,359.6 L65.44,360.16 L65.52,360.69 L65.61,361.21 L65.69,361.73 L65.79,362.25 L65.89,362.78 L66,363.31 L66.12,363.83 L66.24,364.34 L66.37,364.86 L66.5,365.37 L66.64,365.88 L66.78,366.39 L66.92,366.9 L67.07,367.41 L67.23,367.91 L67.4,368.41 L67.56,368.91 L67.73,369.41 L67.9,369.93 L68.06,370.47 L68.21,371.02 L68.4,371.74 L68.59,372.47 L68.77,373.23 L68.96,374.01 L69.13,374.82 L69.29,375.64 L69.43,376.47 L69.56,377.33 L69.68,378.36 L69.76,379.43 L69.83,380.53 L69.87,381.65 L69.91,382.79 L69.94,383.95 L69.97,385.12 L70.01,386.3 L70.06,387.6 L70.11,388.88 L70.15,390.16 L70.19,391.47 L70.23,392.83 L70.26,394.27 L70.3,395.8 L70.34,397.45 L70.41,400.32 L70.47,403.42 L70.54,406.75 L70.61,410.27 L70.68,413.98 L70.74,417.86 L70.8,421.89 L70.85,426.05 L70.93,432.86 L70.99,440.78 L71.05,449.35 L71.11,458.11 L71.15,466.58 L71.2,474.31 L71.23,480.83 L71.26,485.68 L71.27,486.92 L71.27,487.99 L71.28,488.92 L71.28,489.75 L71.29,490.53 L71.29,491.3 L71.3,492.09 L71.3,492.95" stroke="#625f9c"/>
<path d="M54.5,492.95 L54.5,485.96 L54.51,478.92 L54.51,471.87 L54.51,464.83 L54.52,457.82 L54.52,450.86 L54.53,443.98 L54.53,437.2 L54.54,430.85 L54.55,424.39 L54.56,417.93 L54.57,411.55 L54.58,405.35 L54.59,399.42 L54.6,393.84 L54.62,388.72 L54.63,385.52 L54.64,382.46 L54.64,379.53 L54.65,376.73 L54.67,374.07 L54.68,371.54 L54.7,369.15 L54.73,366.9 L54.75,365.5 L54.77,364.17 L54.78,362.92 L54.8,361.73 L54.82,360.57 L54.86,359.44 L54.9,358.33 L54.96,357.21 L55.03,356.22 L55.09,355.22 L55.15,354.22 L55.23,353.25 L55.32,352.32 L55.42,351.44 L55.56,350.64 L55.72,349.94 L55.83,349.56 L55.96,349.23 L56.09,348.93 L56.24,348.65 L56.38,348.37 L56.53,348.1 L56.68,347.82 L56.82,347.51 L56.98,347.17 L57.15,346.82 L57.31,346.48 L57.48,346.12 L57.65,345.76 L57.81,345.39 L57.96,345.01 L58.1,344.6 L58.26,344.09 L58.41,343.56 L58.56,343.02 L58.69,342.46 L58.82,341.87 L58.93,341.27 L59.04,340.64 L59.15,340 L59.26,339.11 L59.36,338.17 L59.44,337.18 L59.51,336.16 L59.57,335.12 L59.62,334.08 L59.67,333.03 L59.73,332 L59.78,330.92 L59.83,329.83 L59.88,328.73 L59.92,327.63 L59.96,326.52 L60,325.43 L60.04,324.34 L60.07,323.27 L60.11,322.28 L60.14,321.3 L60.17,320.33 L60.2,319.37 L60.22,318.4 L60.25,317.44 L60.28,316.48 L60.31,315.52 L60.33,316.48 L60.35,317.44 L60.38,318.4 L60.4,319.37 L60.42,320.33 L60.44,321.3 L60.47,322.28 L60.49,323.27 L60.51,324.34 L60.53,325.41 L60.56,326.49 L60.58,327.58 L60.6,328.68 L60.62,329.78 L60.65,330.89 L60.67,332 L60.7,333.16 L60.73,334.34 L60.75,335.52 L60.78,336.71 L60.81,337.9 L60.84,339.09 L60.88,340.27 L60.92,341.45 L60.95,342.61 L60.99,343.78 L61.03,344.95 L61.07,346.12 L61.12,347.27 L61.17,348.42 L61.22,349.55 L61.28,350.66 L61.34,351.68 L61.4,352.7 L61.47,353.72 L61.53,354.72 L61.6,355.7 L61.68,356.65 L61.75,357.56 L61.83,358.42 L61.88,359.03 L61.94,359.6 L61.99,360.15 L62.05,360.69 L62.11,361.21 L62.17,361.73 L62.24,362.25 L62.31,362.78 L62.39,363.3 L62.47,363.82 L62.56,364.34 L62.65,364.85 L62.75,365.37 L62.84,365.88 L62.94,366.39 L63.04,366.9 L63.15,367.41 L63.26,367.91 L63.38,368.41 L63.5,368.91 L63.61,369.41 L63.73,369.93 L63.85,370.47 L63.96,371.02 L64.09,371.74 L64.22,372.48 L64.35,373.24 L64.48,374.02 L64.61,374.82 L64.72,375.64 L64.82,376.48 L64.91,377.33 L64.99,378.36 L65.06,379.43 L65.1,380.53 L65.13,381.65 L65.16,382.79 L65.18,383.95 L65.2,385.12 L65.23,386.3 L65.27,387.6 L65.3,388.88 L65.33,390.16 L65.36,391.47 L65.38,392.83 L65.41,394.27 L65.44,395.8 L65.46,397.45 L65.51,400.32 L65.56,403.42 L65.61,406.75 L65.66,410.27 L65.7,413.98 L65.75,417.86 L65.79,421.89 L65.83,426.05 L65.88,432.86 L65.93,440.78 L65.97,449.35 L66.01,458.11 L66.04,466.58 L66.07,474.31 L66.09,480.83 L66.11,485.68 L66.12,486.92 L66.12,487.99 L66.13,488.92 L66.13,489.75 L66.13,490.53 L66.14,491.3 L66.14,492.09 L66.14,492.95" stroke="#9a9a9a"/>
<path d="M54.5,492.95 L54.5,485.96 L54.51,478.92 L54.51,471.87 L54.51,464.83 L54.51,457.82 L54.52,450.86 L54.52,443.98 L54.53,437.2 L54.53,430.85 L54.54,424.39 L54.54,417.93 L54.55,411.55 L54.56,405.35 L54.56,399.42 L54.57,393.84 L54.59,388.72 L54.59,385.52 L54.6,382.46 L54.61,379.53 L54.61,376.73 L54.62,374.07 L54.64,371.54 L54.65,369.15 L54.67,366.9 L54.69,365.5 L54.7,364.17 L54.71,362.92 L54.72,361.73 L54.74,360.57 L54.76,359.44 L54.8,358.33 L54.85,357.21 L54.89,356.22 L54.93,355.22 L54.98,354.23 L55.04,353.26 L55.1,352.32 L55.18,351.45 L55.28,350.65 L55.41,349.94 L55.49,349.57 L55.58,349.24 L55.68,348.93 L55.79,348.65 L55.9,348.38 L56.01,348.1 L56.12,347.82 L56.23,347.51 L56.34,347.17 L56.47,346.82 L56.59,346.47 L56.71,346.12 L56.84,345.76 L56.96,345.39 L57.07,345 L57.17,344.6 L57.3,344.09 L57.41,343.56 L57.51,343.02 L57.61,342.45 L57.71,341.87 L57.79,341.27 L57.88,340.64 L57.95,340 L58.04,339.11 L58.11,338.16 L58.17,337.18 L58.22,336.16 L58.26,335.12 L58.3,334.08 L58.34,333.03 L58.38,332 L58.42,330.92 L58.46,329.83 L58.5,328.73 L58.53,327.63 L58.56,326.52 L58.59,325.43 L58.61,324.34 L58.64,323.27 L58.67,322.28 L58.69,321.3 L58.71,320.33 L58.73,319.37 L58.75,318.4 L58.77,317.44 L58.79,316.48 L58.81,315.52 L58.83,316.48 L58.85,317.44 L58.87,318.4 L58.88,319.37 L58.9,320.33 L58.92,321.3 L58.93,322.28 L58.95,323.27 L58.97,324.34 L58.98,325.41 L59,326.49 L59.02,327.58 L59.03,328.68 L59.05,329.78 L59.07,330.89 L59.08,332 L59.1,333.16 L59.13,334.34 L59.15,335.52 L59.17,336.71 L59.19,337.9 L59.21,339.09 L59.24,340.27 L59.27,341.45 L59.29,342.61 L59.32,343.78 L59.35,344.95 L59.38,346.11 L59.42,347.27 L59.45,348.42 L59.49,349.55 L59.54,350.66 L59.58,351.68 L59.63,352.7 L59.67,353.72 L59.73,354.72 L59.78,355.7 L59.83,356.65 L59.89,357.56 L59.94,358.42 L59.98,359.03 L60.03,359.6 L60.07,360.15 L60.11,360.69 L60.15,361.21 L60.2,361.73 L60.25,362.25 L60.3,362.78 L60.36,363.3 L60.42,363.82 L60.49,364.34 L60.56,364.85 L60.63,365.37 L60.7,365.88 L60.77,366.39 L60.85,366.9 L60.93,367.41 L61.01,367.91 L61.09,368.41 L61.18,368.91 L61.27,369.41 L61.36,369.93 L61.44,370.47 L61.52,371.02 L61.62,371.74 L61.72,372.48 L61.82,373.24 L61.92,374.02 L62.01,374.82 L62.09,375.64 L62.17,376.48 L62.23,377.33 L62.3,378.37 L62.34,379.43 L62.37,380.53 L62.4,381.65 L62.42,382.79 L62.43,383.95 L62.45,385.12 L62.47,386.3 L62.5,387.6 L62.52,388.88 L62.54,390.16 L62.57,391.47 L62.58,392.83 L62.6,394.27 L62.62,395.8 L62.64,397.45 L62.68,400.32 L62.71,403.42 L62.75,406.75 L62.79,410.27 L62.82,413.98 L62.86,417.86 L62.89,421.89 L62.92,426.05 L62.95,432.86 L62.99,440.78 L63.02,449.35 L63.05,458.11 L63.07,466.58 L63.1,474.31 L63.11,480.83 L63.13,485.68 L63.13,486.92 L63.14,487.99 L63.14,488.92 L63.14,489.75 L63.14,490.53 L63.15,491.3 L63.15,492.09 L63.15,492.95" stroke="#ee7880"/>
<path d="M54.5,492.95 L54.5,485.96 L54.5,478.92 L54.51,471.87 L54.51,464.83 L54.51,457.82 L54.51,450.86 L54.52,443.98 L54.52,437.2 L54.53,430.85 L54.53,424.39 L54.53,417.93 L54.54,411.55 L54.55,405.35 L54.55,399.42 L54.56,393.84 L54.57,388.72 L54.58,385.52 L54.58,382.46 L54.59,379.53 L54.59,376.73 L54.6,374.07 L54.61,371.54 L54.62,369.15 L54.64,366.9 L54.65,365.5 L54.66,364.17 L54.67,362.92 L54.68,361.73 L54.69,360.57 L54.71,359.44 L54.74,358.33 L54.78,357.21 L54.81,356.22 L54.85,355.22 L54.89,354.23 L54.93,353.26 L54.99,352.33 L55.05,351.45 L55.13,350.65 L55.23,349.94 L55.3,349.57 L55.38,349.24 L55.46,348.94 L55.54,348.65 L55.63,348.38 L55.72,348.1 L55.81,347.82 L55.89,347.51 L55.99,347.17 L56.09,346.82 L56.19,346.47 L56.29,346.12 L56.39,345.76 L56.48,345.39 L56.58,345 L56.66,344.6 L56.76,344.09 L56.85,343.56 L56.94,343.01 L57.02,342.45 L57.09,341.87 L57.16,341.27 L57.23,340.64 L57.29,340 L57.36,339.11 L57.42,338.16 L57.46,337.18 L57.5,336.16 L57.54,335.12 L57.57,334.07 L57.6,333.03 L57.64,332 L57.67,330.92 L57.7,329.83 L57.73,328.73 L57.75,327.63 L57.78,326.52 L57.8,325.43 L57.82,324.34 L57.84,323.27 L57.87,322.28 L57.88,321.3 L57.9,320.33 L57.92,319.37 L57.93,318.4 L57.95,317.44 L57.97,316.48 L57.98,315.52 L58,316.48 L58.01,317.44 L58.02,318.4 L58.04,319.37 L58.05,320.33 L58.06,321.3 L58.08,322.28 L58.09,323.27 L58.1,324.34 L58.11,325.41 L58.13,326.49 L58.14,327.58 L58.15,328.68 L58.16,329.78 L58.18,330.89 L58.19,332 L58.21,333.16 L58.22,334.34 L58.24,335.52 L58.26,336.71 L58.27,337.9 L58.29,339.09 L58.31,340.27 L58.33,341.45 L58.35,342.61 L58.38,343.78 L58.4,344.95 L58.42,346.11 L58.45,347.27 L58.48,348.42 L58.51,349.55 L58.54,350.66 L58.57,351.68 L58.61,352.7 L58.65,353.72 L58.69,354.72 L58.73,355.7 L58.77,356.65 L58.81,357.56 L58.85,358.42 L58.88,359.03 L58.92,359.6 L58.95,360.15 L58.98,360.69 L59.01,361.21 L59.05,361.73 L59.09,362.25 L59.13,362.78 L59.18,363.3 L59.22,363.82 L59.27,364.34 L59.32,364.85 L59.38,365.36 L59.43,365.88 L59.49,366.39 L59.55,366.9 L59.61,367.41 L59.67,367.91 L59.74,368.41 L59.81,368.91 L59.87,369.42 L59.94,369.93 L60.01,370.47 L60.07,371.02 L60.14,371.74 L60.22,372.48 L60.3,373.24 L60.37,374.02 L60.44,374.82 L60.51,375.64 L60.56,376.48 L60.61,377.33 L60.66,378.37 L60.7,379.43 L60.72,380.53 L60.74,381.65 L60.76,382.79 L60.77,383.95 L60.78,385.12 L60.8,386.3 L60.82,387.6 L60.84,388.88 L60.85,390.16 L60.87,391.47 L60.88,392.83 L60.9,394.27 L60.92,395.8 L60.93,397.45 L60.96,400.32 L60.99,403.42 L61.01,406.75 L61.04,410.27 L61.07,413.98 L61.09,417.86 L61.12,421.89 L61.14,426.05 L61.17,432.86 L61.2,440.78 L61.22,449.35 L61.24,458.11 L61.26,466.58 L61.28,474.31 L61.29,480.83 L61.3,485.68 L61.31,486.92 L61.31,487.99 L61.31,488.92 L61.31,489.75 L61.31,490.53 L61.32,491.3 L61.32,492.09 L61.32,492.95" stroke="#6b9bd1"/>
<path d="M54.5,492.95 L54.5,485.96 L54.5,478.92 L54.51,471.87 L54.51,464.83 L54.51,457.82 L54.51,450.86 L54.51,443.98 L54.52,437.2 L54.52,430.85 L54.52,424.39 L54.53,417.93 L54.53,411.55 L54.54,405.35 L54.54,399.42 L54.55,393.84 L54.56,388.72 L54.56,385.52 L54.57,382.46 L54.57,379.53 L54.57,376.73 L54.58,374.07 L54.59,371.54 L54.6,369.15 L54.61,366.9 L54.62,365.5 L54.63,364.17 L54.64,362.92 L54.64,361.73 L54.66,360.57 L54.67,359.44 L54.7,358.33 L54.73,357.21 L54.75,356.22 L54.78,355.22 L54.81,354.23 L54.85,353.26 L54.89,352.33 L54.95,351.45 L55.01,350.65 L55.09,349.94 L55.15,349.57 L55.21,349.24 L55.27,348.94 L55.34,348.65 L55.41,348.38 L55.49,348.1 L55.56,347.82 L55.63,347.51 L55.71,347.17 L55.79,346.82 L55.87,346.47 L55.95,346.12 L56.03,345.76 L56.11,345.39 L56.18,345 L56.25,344.6 L56.33,344.09 L56.4,343.56 L56.47,343.01 L56.54,342.45 L56.6,341.87 L56.65,341.26 L56.71,340.64 L56.76,340 L56.81,339.11 L56.86,338.16 L56.9,337.18 L56.93,336.16 L56.96,335.12 L56.99,334.07 L57.01,333.03 L57.04,332 L57.07,330.92 L57.09,329.83 L57.11,328.73 L57.13,327.63 L57.15,326.52 L57.17,325.43 L57.19,324.34 L57.21,323.27 L57.22,322.28 L57.24,321.3 L57.25,320.33 L57.27,319.37 L57.28,318.4 L57.29,317.44 L57.31,316.48 L57.32,315.52 L57.33,316.48 L57.34,317.44 L57.35,318.4 L57.36,319.37 L57.37,320.33 L57.38,321.3 L57.39,322.28 L57.4,323.27 L57.41,324.34 L57.42,325.41 L57.43,326.49 L57.44,327.58 L57.45,328.68 L57.46,329.78 L57.47,330.89 L57.48,332 L57.49,333.16 L57.5,334.34 L57.51,335.52 L57.52,336.71 L57.54,337.9 L57.55,339.09 L57.57,340.27 L57.58,341.45 L57.6,342.61 L57.61,343.78 L57.63,344.95 L57.65,346.11 L57.67,347.27 L57.69,348.42 L57.71,349.55 L57.74,350.66 L57.76,351.68 L57.79,352.7 L57.82,353.72 L57.85,354.72 L57.88,355.7 L57.91,356.65 L57.94,357.56 L57.97,358.42 L58,359.03 L58.02,359.6 L58.04,360.15 L58.07,360.69 L58.09,361.21 L58.12,361.73 L58.15,362.25 L58.18,362.78 L58.21,363.3 L58.25,363.82 L58.29,364.34 L58.33,364.85 L58.37,365.36 L58.41,365.88 L58.45,366.39 L58.49,366.9 L58.54,367.41 L58.59,367.91 L58.64,368.41 L58.69,368.91 L58.74,369.42 L58.79,369.93 L58.84,370.47 L58.88,371.02 L58.94,371.74 L59,372.48 L59.06,373.24 L59.11,374.02 L59.16,374.82 L59.21,375.64 L59.26,376.48 L59.29,377.33 L59.33,378.37 L59.36,379.44 L59.38,380.53 L59.39,381.65 L59.4,382.79 L59.41,383.95 L59.42,385.12 L59.43,386.3 L59.45,387.6 L59.46,388.88 L59.47,390.16 L59.48,391.47 L59.5,392.83 L59.51,394.27 L59.52,395.8 L59.53,397.45 L59.55,400.32 L59.57,403.42 L59.59,406.75 L59.61,410.27 L59.63,413.98 L59.65,417.86 L59.67,421.89 L59.69,426.05 L59.71,432.86 L59.73,440.78 L59.75,449.35 L59.76,458.11 L59.78,466.58 L59.79,474.31 L59.8,480.83 L59.81,485.68 L59.81,486.92 L59.81,487.99 L59.82,488.92 L59.82,489.75 L59.82,490.53 L59.82,491.3 L59.82,492.09 L59.82,492.95" stroke="#c8641e"/>
</g>
<rect x="49.5" y="268.5" width="270.3" height="216.8" fill="none" stroke="#000" stroke-width="2.6"/>
<line x1="54.5" y1="485.3" x2="54.5" y2="479.1" stroke="#000" stroke-width="2.2"/>
<line x1="104.28" y1="485.3" x2="104.28" y2="479.1" stroke="#000" stroke-width="2.2"/>
<line x1="154.05" y1="485.3" x2="154.05" y2="479.1" stroke="#000" stroke-width="2.2"/>
<line x1="203.83" y1="485.3" x2="203.83" y2="479.1" stroke="#000" stroke-width="2.2"/>
<line x1="253.6" y1="485.3" x2="253.6" y2="479.1" stroke="#000" stroke-width="2.2"/>
<line x1="303.38" y1="485.3" x2="303.38" y2="479.1" stroke="#000" stroke-width="2.2"/>
<line x1="79.39" y1="485.3" x2="79.39" y2="481.3" stroke="#000" stroke-width="2.2"/>
<line x1="129.16" y1="485.3" x2="129.16" y2="481.3" stroke="#000" stroke-width="2.2"/>
<line x1="178.94" y1="485.3" x2="178.94" y2="481.3" stroke="#000" stroke-width="2.2"/>
<line x1="228.72" y1="485.3" x2="228.72" y2="481.3" stroke="#000" stroke-width="2.2"/>
<line x1="278.49" y1="485.3" x2="278.49" y2="481.3" stroke="#000" stroke-width="2.2"/>
<line x1="49.5" y1="485.68" x2="55.7" y2="485.68" stroke="#000" stroke-width="2.2"/>
<line x1="49.5" y1="437.2" x2="55.7" y2="437.2" stroke="#000" stroke-width="2.2"/>
<line x1="49.5" y1="388.72" x2="55.7" y2="388.72" stroke="#000" stroke-width="2.2"/>
<line x1="49.5" y1="340.24" x2="55.7" y2="340.24" stroke="#000" stroke-width="2.2"/>
<line x1="49.5" y1="291.76" x2="55.7" y2="291.76" stroke="#000" stroke-width="2.2"/>
<line x1="49.5" y1="461.44" x2="53.5" y2="461.44" stroke="#000" stroke-width="2.2"/>
<line x1="49.5" y1="412.96" x2="53.5" y2="412.96" stroke="#000" stroke-width="2.2"/>
<line x1="49.5" y1="364.48" x2="53.5" y2="364.48" stroke="#000" stroke-width="2.2"/>
<line x1="49.5" y1="316" x2="53.5" y2="316" stroke="#000" stroke-width="2.2"/>
<text x="54.5" y="501.9" text-anchor="middle" font-size="13.5">0</text>
<text x="104.28" y="501.9" text-anchor="middle" font-size="13.5">300</text>
<text x="154.05" y="501.9" text-anchor="middle" font-size="13.5">600</text>
<text x="203.83" y="501.9" text-anchor="middle" font-size="13.5">900</text>
<text x="253.6" y="501.9" text-anchor="middle" font-size="13.5">1200</text>
<text x="303.38" y="501.9" text-anchor="middle" font-size="13.5">1500</text>
<text x="43" y="489.48" text-anchor="end" font-size="13.5">-0.2</text>
<text x="43" y="441" text-anchor="end" font-size="13.5">0.0</text>
<text x="43" y="392.52" text-anchor="end" font-size="13.5">0.2</text>
<text x="43" y="344.04" text-anchor="end" font-size="13.5">0.4</text>
<text x="43" y="295.56" text-anchor="end" font-size="13.5">0.6</text>
<text x="184.8" y="520.3" text-anchor="middle" font-size="18.5">Time (s)</text>
<text transform="translate(20,367.6) rotate(-90)" text-anchor="middle" font-size="18.6">Voltage (V)</text>
<text transform="translate(56.2,291.2) scale(1.0,1)" font-size="24" class="pl" fill="#111">(c)</text>
<text x="220.5" y="302.8" font-size="12.3">T<tspan font-size="12.3" dy="5">2</tspan><tspan dy="-5">-CoMn</tspan><tspan font-size="12.3" dy="5">2</tspan><tspan dy="-5">O</tspan><tspan font-size="12.3" dy="5">4</tspan></text>
<line x1="125.8" y1="390.4" x2="155.3" y2="390.4" stroke="#d81020" stroke-width="2.2"/>
<text x="158.3" y="394.6" font-size="12.6">1 A g<tspan font-size="6.8" dy="-6.9">-1</tspan></text>
<line x1="195.6" y1="390.4" x2="224.8" y2="390.4" stroke="#2f6096" stroke-width="2.2"/>
<text x="227.5" y="394.6" font-size="12.6">3 A g<tspan font-size="6.8" dy="-6.9">-1</tspan></text>
<line x1="125.8" y1="409.2" x2="155.3" y2="409.2" stroke="#f5c02e" stroke-width="2.2"/>
<text x="158.3" y="413.4" font-size="12.6">5 A g<tspan font-size="6.8" dy="-6.9">-1</tspan></text>
<line x1="195.6" y1="409.2" x2="224.8" y2="409.2" stroke="#3cb46e" stroke-width="2.2"/>
<text x="227.5" y="413.4" font-size="12.6">7 A g<tspan font-size="6.8" dy="-6.9">-1</tspan></text>
<line x1="125.8" y1="427.9" x2="155.3" y2="427.9" stroke="#625f9c" stroke-width="2.2"/>
<text x="158.3" y="432.1" font-size="12.6">10 A g<tspan font-size="6.8" dy="-6.9">-1</tspan></text>
<line x1="202.9" y1="427.9" x2="231.3" y2="427.9" stroke="#9a9a9a" stroke-width="2.2"/>
<text x="234.4" y="432.1" font-size="12.6">15 A g<tspan font-size="6.8" dy="-6.9">-1</tspan></text>
<line x1="125.8" y1="446.6" x2="155.3" y2="446.6" stroke="#ee7880" stroke-width="2.2"/>
<text x="158.3" y="450.8" font-size="12.6">20 A g<tspan font-size="6.8" dy="-6.9">-1</tspan></text>
<line x1="202.9" y1="446.6" x2="231.3" y2="446.6" stroke="#6b9bd1" stroke-width="2.2"/>
<text x="234.4" y="450.8" font-size="12.6">25 A g<tspan font-size="6.8" dy="-6.9">-1</tspan></text>
<line x1="125.8" y1="465.3" x2="155.3" y2="465.3" stroke="#c8641e" stroke-width="2.2"/>
<text x="158.3" y="469.5" font-size="12.6">30 A g<tspan font-size="6.8" dy="-6.9">-1</tspan></text>
<rect x="386" y="268.3" width="270.3" height="216.8" fill="none" stroke="#000" stroke-width="2.6"/>
<line x1="385.8" y1="485.1" x2="385.8" y2="478.9" stroke="#000" stroke-width="2.2"/>
<line x1="427.3" y1="485.1" x2="427.3" y2="478.9" stroke="#000" stroke-width="2.2"/>
<line x1="468.8" y1="485.1" x2="468.8" y2="478.9" stroke="#000" stroke-width="2.2"/>
<line x1="510.3" y1="485.1" x2="510.3" y2="478.9" stroke="#000" stroke-width="2.2"/>
<line x1="551.8" y1="485.1" x2="551.8" y2="478.9" stroke="#000" stroke-width="2.2"/>
<line x1="593.3" y1="485.1" x2="593.3" y2="478.9" stroke="#000" stroke-width="2.2"/>
<line x1="634.8" y1="485.1" x2="634.8" y2="478.9" stroke="#000" stroke-width="2.2"/>
<line x1="406.55" y1="485.1" x2="406.55" y2="481.1" stroke="#000" stroke-width="2.2"/>
<line x1="448.05" y1="485.1" x2="448.05" y2="481.1" stroke="#000" stroke-width="2.2"/>
<line x1="489.55" y1="485.1" x2="489.55" y2="481.1" stroke="#000" stroke-width="2.2"/>
<line x1="531.05" y1="485.1" x2="531.05" y2="481.1" stroke="#000" stroke-width="2.2"/>
<line x1="572.55" y1="485.1" x2="572.55" y2="481.1" stroke="#000" stroke-width="2.2"/>
<line x1="614.05" y1="485.1" x2="614.05" y2="481.1" stroke="#000" stroke-width="2.2"/>
<line x1="386" y1="485.1" x2="392.2" y2="485.1" stroke="#000" stroke-width="2.2"/>
<line x1="386" y1="450.82" x2="392.2" y2="450.82" stroke="#000" stroke-width="2.2"/>
<line x1="386" y1="416.54" x2="392.2" y2="416.54" stroke="#000" stroke-width="2.2"/>
<line x1="386" y1="382.26" x2="392.2" y2="382.26" stroke="#000" stroke-width="2.2"/>
<line x1="386" y1="347.98" x2="392.2" y2="347.98" stroke="#000" stroke-width="2.2"/>
<line x1="386" y1="313.7" x2="392.2" y2="313.7" stroke="#000" stroke-width="2.2"/>
<line x1="386" y1="279.42" x2="392.2" y2="279.42" stroke="#000" stroke-width="2.2"/>
<line x1="386" y1="467.96" x2="390" y2="467.96" stroke="#000" stroke-width="2.2"/>
<line x1="386" y1="433.68" x2="390" y2="433.68" stroke="#000" stroke-width="2.2"/>
<line x1="386" y1="399.4" x2="390" y2="399.4" stroke="#000" stroke-width="2.2"/>
<line x1="386" y1="365.12" x2="390" y2="365.12" stroke="#000" stroke-width="2.2"/>
<line x1="386" y1="330.84" x2="390" y2="330.84" stroke="#000" stroke-width="2.2"/>
<line x1="386" y1="296.56" x2="390" y2="296.56" stroke="#000" stroke-width="2.2"/>
<text x="385.8" y="501.7" text-anchor="middle" font-size="13.5">0</text>
<text x="427.3" y="501.7" text-anchor="middle" font-size="13.5">5</text>
<text x="468.8" y="501.7" text-anchor="middle" font-size="13.5">10</text>
<text x="510.3" y="501.7" text-anchor="middle" font-size="13.5">15</text>
<text x="551.8" y="501.7" text-anchor="middle" font-size="13.5">20</text>
<text x="593.3" y="501.7" text-anchor="middle" font-size="13.5">25</text>
<text x="634.8" y="501.7" text-anchor="middle" font-size="13.5">30</text>
<text x="379.5" y="488.9" text-anchor="end" font-size="13.5">0</text>
<text x="379.5" y="454.62" text-anchor="end" font-size="13.5">300</text>
<text x="379.5" y="420.34" text-anchor="end" font-size="13.5">600</text>
<text x="379.5" y="386.06" text-anchor="end" font-size="13.5">900</text>
<text x="379.5" y="351.78" text-anchor="end" font-size="13.5">1200</text>
<text x="379.5" y="317.5" text-anchor="end" font-size="13.5">1500</text>
<text x="379.5" y="283.22" text-anchor="end" font-size="13.5">1800</text>
<text x="512.2" y="522.7" text-anchor="middle" font-size="18.4">Current density (A g<tspan font-size="10.6" dy="-8.6">-1</tspan><tspan dy="8.6" dx="1">)</tspan></text>
<text transform="translate(343.2,375.6) rotate(-90)" text-anchor="middle" font-size="18.3">Specific capacitance (F g<tspan font-size="10.6" dy="-9">-1</tspan><tspan dy="9">)</tspan></text>
<text transform="translate(403,291.4) scale(1.07,1)" font-size="23.5" class="pl" fill="#111">(d)</text>
<circle cx="394.1" cy="289.93" r="3.4" fill="url(#gb)"/>
<circle cx="410.7" cy="311.53" r="3.4" fill="url(#gb)"/>
<circle cx="427.3" cy="317.24" r="3.4" fill="url(#gb)"/>
<circle cx="443.9" cy="321.01" r="3.4" fill="url(#gb)"/>
<circle cx="468.8" cy="330.27" r="3.4" fill="url(#gb)"/>
<circle cx="510.3" cy="332.67" r="3.4" fill="url(#gb)"/>
<circle cx="551.8" cy="337.24" r="3.4" fill="url(#gb)"/>
<circle cx="593.3" cy="342.38" r="3.4" fill="url(#gb)"/>
<circle cx="634.8" cy="345.81" r="3.4" fill="url(#gb)"/>
<circle cx="394.1" cy="371.98" r="3.4" fill="url(#gm)"/>
<circle cx="410.7" cy="380.43" r="3.4" fill="url(#gm)"/>
<circle cx="427.3" cy="382.15" r="3.4" fill="url(#gm)"/>
<circle cx="443.9" cy="386.37" r="3.4" fill="url(#gm)"/>
<circle cx="468.8" cy="389.46" r="3.4" fill="url(#gm)"/>
<circle cx="510.3" cy="396.09" r="3.4" fill="url(#gm)"/>
<circle cx="551.8" cy="402.03" r="3.4" fill="url(#gm)"/>
<circle cx="593.3" cy="403.86" r="3.4" fill="url(#gm)"/>
<circle cx="634.8" cy="411.74" r="3.4" fill="url(#gm)"/>
<circle cx="554.7" cy="287.6" r="3.4" fill="url(#gm)"/>
<circle cx="554.7" cy="311.2" r="3.4" fill="url(#gb)"/>
<text x="569.6" y="291.8" font-size="12.3">T<tspan font-size="12.3" dy="5">1</tspan><tspan dy="-5">-CoMn</tspan><tspan font-size="12.3" dy="5">2</tspan><tspan dy="-5">O</tspan><tspan font-size="12.3" dy="5">4</tspan></text>
<text x="569.6" y="315.1" font-size="12.3">T<tspan font-size="12.3" dy="5">2</tspan><tspan dy="-5">-CoMn</tspan><tspan font-size="12.3" dy="5">2</tspan><tspan dy="-5">O</tspan><tspan font-size="12.3" dy="5">4</tspan></text>
</g></svg></body></html>
